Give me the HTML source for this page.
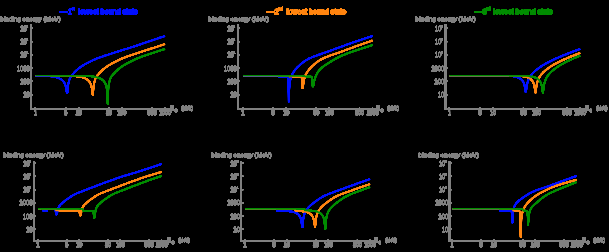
<!DOCTYPE html><html><head><meta charset="utf-8"><style>html,body{margin:0;padding:0;background:#000;width:609px;height:252px;overflow:hidden}svg{display:block}text{font-family:"Liberation Sans", sans-serif;stroke-width:0.45px;paint-order:stroke}</style></head><body>
<svg width="609" height="252" viewBox="0 0 609 252">
<defs><filter id="hT" filterUnits="userSpaceOnUse" x="0" y="0" width="609" height="252" color-interpolation-filters="sRGB"><feComponentTransfer><feFuncA type="linear" slope="20" intercept="0"/></feComponentTransfer></filter>
<filter id="hC" filterUnits="userSpaceOnUse" x="0" y="0" width="609" height="252" color-interpolation-filters="sRGB"><feComponentTransfer><feFuncA type="linear" slope="5" intercept="0"/></feComponentTransfer></filter></defs>
<g filter="url(#hT)" stroke="#808080"><path d="M31 24V108.9H170" fill="none" stroke="#808080" stroke-width="1.5"/><path d="M35.4 108.9v-1.5" stroke="#808080" stroke-width="1"/><text transform="translate(35.4 114.9) scale(0.82 1)" font-size="6.4" text-anchor="middle" fill="#808080" stroke="#808080" style="stroke-width:0.6px">1</text><path d="M65.6 108.9v-1.5" stroke="#808080" stroke-width="1"/><text transform="translate(65.6 114.9) scale(0.82 1)" font-size="6.4" text-anchor="middle" fill="#808080" stroke="#808080" style="stroke-width:0.6px">5</text><path d="M78.6 108.9v-1.5" stroke="#808080" stroke-width="1"/><text transform="translate(78.6 114.9) scale(0.82 1)" font-size="6.4" text-anchor="middle" fill="#808080" stroke="#808080" style="stroke-width:0.6px">10</text><path d="M108.8 108.9v-1.5" stroke="#808080" stroke-width="1"/><text transform="translate(108.8 114.9) scale(0.82 1)" font-size="6.4" text-anchor="middle" fill="#808080" stroke="#808080" style="stroke-width:0.6px">50</text><path d="M121.8 108.9v-1.5" stroke="#808080" stroke-width="1"/><text transform="translate(121.8 114.9) scale(0.82 1)" font-size="6.4" text-anchor="middle" fill="#808080" stroke="#808080" style="stroke-width:0.6px">100</text><path d="M152 108.9v-1.5" stroke="#808080" stroke-width="1"/><text transform="translate(152 114.9) scale(0.82 1)" font-size="6.4" text-anchor="middle" fill="#808080" stroke="#808080" style="stroke-width:0.6px">500</text><path d="M165 108.9v-1.5" stroke="#808080" stroke-width="1"/><text transform="translate(165 114.9) scale(0.82 1)" font-size="6.4" text-anchor="middle" fill="#808080" stroke="#808080" style="stroke-width:0.6px">1000</text><path d="M31 94.6h2" stroke="#808080" stroke-width="1"/><text transform="translate(29.7 97.2) scale(0.88 1)" font-size="6.6" text-anchor="end" fill="#808080" style="stroke-width:0.35px">10</text><path d="M31 81.34h2" stroke="#808080" stroke-width="1"/><text transform="translate(29.7 83.94) scale(0.88 1)" font-size="6.6" text-anchor="end" fill="#808080" style="stroke-width:0.35px">100</text><path d="M31 68.08h2" stroke="#808080" stroke-width="1"/><text transform="translate(29.7 70.68) scale(0.88 1)" font-size="6.6" text-anchor="end" fill="#808080" style="stroke-width:0.35px">1000</text><path d="M31 54.82h2" stroke="#808080" stroke-width="1"/><text transform="translate(26.6 57.42) scale(0.88 1)" font-size="6.6" text-anchor="end" fill="#808080" style="stroke-width:0.35px">10</text><text x="25.9" y="54.32" font-size="3.8" fill="#808080" style="stroke-width:0.2px">4</text><path d="M31 41.56h2" stroke="#808080" stroke-width="1"/><text transform="translate(26.6 44.16) scale(0.88 1)" font-size="6.6" text-anchor="end" fill="#808080" style="stroke-width:0.35px">10</text><text x="25.9" y="41.06" font-size="3.8" fill="#808080" style="stroke-width:0.2px">5</text><path d="M31 28.3h2" stroke="#808080" stroke-width="1"/><text transform="translate(26.6 30.9) scale(0.88 1)" font-size="6.6" text-anchor="end" fill="#808080" style="stroke-width:0.35px">10</text><text x="25.9" y="27.8" font-size="3.8" fill="#808080" style="stroke-width:0.2px">6</text><text x="0.4" y="20.9" font-size="5.7" fill="#808080" textLength="60.2" lengthAdjust="spacingAndGlyphs">binding energy (MeV)</text><text x="170.2" y="110.3" font-size="6.8" fill="#808080">μ</text><text x="174.6" y="112.1" font-size="5.2" fill="#808080">c</text><text x="181.6" y="109.9" font-size="5.4" fill="#808080" textLength="11.2" lengthAdjust="spacingAndGlyphs">(MeV)</text><path d="M238 24V108.9H376" fill="none" stroke="#808080" stroke-width="1.5"/><path d="M243 108.9v-1.5" stroke="#808080" stroke-width="1"/><text transform="translate(243 114.9) scale(0.82 1)" font-size="6.4" text-anchor="middle" fill="#808080" stroke="#808080" style="stroke-width:0.6px">1</text><path d="M273.17 108.9v-1.5" stroke="#808080" stroke-width="1"/><text transform="translate(273.17 114.9) scale(0.82 1)" font-size="6.4" text-anchor="middle" fill="#808080" stroke="#808080" style="stroke-width:0.6px">5</text><path d="M286.17 108.9v-1.5" stroke="#808080" stroke-width="1"/><text transform="translate(286.17 114.9) scale(0.82 1)" font-size="6.4" text-anchor="middle" fill="#808080" stroke="#808080" style="stroke-width:0.6px">10</text><path d="M316.34 108.9v-1.5" stroke="#808080" stroke-width="1"/><text transform="translate(316.34 114.9) scale(0.82 1)" font-size="6.4" text-anchor="middle" fill="#808080" stroke="#808080" style="stroke-width:0.6px">50</text><path d="M329.33 108.9v-1.5" stroke="#808080" stroke-width="1"/><text transform="translate(329.33 114.9) scale(0.82 1)" font-size="6.4" text-anchor="middle" fill="#808080" stroke="#808080" style="stroke-width:0.6px">100</text><path d="M359.51 108.9v-1.5" stroke="#808080" stroke-width="1"/><text transform="translate(359.51 114.9) scale(0.82 1)" font-size="6.4" text-anchor="middle" fill="#808080" stroke="#808080" style="stroke-width:0.6px">500</text><path d="M372.5 108.9v-1.5" stroke="#808080" stroke-width="1"/><text transform="translate(372.5 114.9) scale(0.82 1)" font-size="6.4" text-anchor="middle" fill="#808080" stroke="#808080" style="stroke-width:0.6px">1000</text><path d="M238 94.6h2" stroke="#808080" stroke-width="1"/><text transform="translate(236.7 97.2) scale(0.88 1)" font-size="6.6" text-anchor="end" fill="#808080" style="stroke-width:0.35px">10</text><path d="M238 81.34h2" stroke="#808080" stroke-width="1"/><text transform="translate(236.7 83.94) scale(0.88 1)" font-size="6.6" text-anchor="end" fill="#808080" style="stroke-width:0.35px">100</text><path d="M238 68.08h2" stroke="#808080" stroke-width="1"/><text transform="translate(236.7 70.68) scale(0.88 1)" font-size="6.6" text-anchor="end" fill="#808080" style="stroke-width:0.35px">1000</text><path d="M238 54.82h2" stroke="#808080" stroke-width="1"/><text transform="translate(233.6 57.42) scale(0.88 1)" font-size="6.6" text-anchor="end" fill="#808080" style="stroke-width:0.35px">10</text><text x="232.9" y="54.32" font-size="3.8" fill="#808080" style="stroke-width:0.2px">4</text><path d="M238 41.56h2" stroke="#808080" stroke-width="1"/><text transform="translate(233.6 44.16) scale(0.88 1)" font-size="6.6" text-anchor="end" fill="#808080" style="stroke-width:0.35px">10</text><text x="232.9" y="41.06" font-size="3.8" fill="#808080" style="stroke-width:0.2px">5</text><path d="M238 28.3h2" stroke="#808080" stroke-width="1"/><text transform="translate(233.6 30.9) scale(0.88 1)" font-size="6.6" text-anchor="end" fill="#808080" style="stroke-width:0.35px">10</text><text x="232.9" y="27.8" font-size="3.8" fill="#808080" style="stroke-width:0.2px">6</text><text x="208.6" y="20.9" font-size="5.7" fill="#808080" textLength="60.2" lengthAdjust="spacingAndGlyphs">binding energy (MeV)</text><text x="376.2" y="110.3" font-size="6.8" fill="#808080">μ</text><text x="380.6" y="112.1" font-size="5.2" fill="#808080">c</text><text x="387.6" y="109.9" font-size="5.4" fill="#808080" textLength="11.2" lengthAdjust="spacingAndGlyphs">(MeV)</text><path d="M445.6 24V108.9H584.7" fill="none" stroke="#808080" stroke-width="1.5"/><path d="M449.4 108.9v-1.5" stroke="#808080" stroke-width="1"/><text transform="translate(449.4 114.9) scale(0.82 1)" font-size="6.4" text-anchor="middle" fill="#808080" stroke="#808080" style="stroke-width:0.6px">1</text><path d="M479.88 108.9v-1.5" stroke="#808080" stroke-width="1"/><text transform="translate(479.88 114.9) scale(0.82 1)" font-size="6.4" text-anchor="middle" fill="#808080" stroke="#808080" style="stroke-width:0.6px">5</text><path d="M493 108.9v-1.5" stroke="#808080" stroke-width="1"/><text transform="translate(493 114.9) scale(0.82 1)" font-size="6.4" text-anchor="middle" fill="#808080" stroke="#808080" style="stroke-width:0.6px">10</text><path d="M523.48 108.9v-1.5" stroke="#808080" stroke-width="1"/><text transform="translate(523.48 114.9) scale(0.82 1)" font-size="6.4" text-anchor="middle" fill="#808080" stroke="#808080" style="stroke-width:0.6px">50</text><path d="M536.6 108.9v-1.5" stroke="#808080" stroke-width="1"/><text transform="translate(536.6 114.9) scale(0.82 1)" font-size="6.4" text-anchor="middle" fill="#808080" stroke="#808080" style="stroke-width:0.6px">100</text><path d="M567.08 108.9v-1.5" stroke="#808080" stroke-width="1"/><text transform="translate(567.08 114.9) scale(0.82 1)" font-size="6.4" text-anchor="middle" fill="#808080" stroke="#808080" style="stroke-width:0.6px">500</text><path d="M580.2 108.9v-1.5" stroke="#808080" stroke-width="1"/><text transform="translate(580.2 114.9) scale(0.82 1)" font-size="6.4" text-anchor="middle" fill="#808080" stroke="#808080" style="stroke-width:0.6px">1000</text><path d="M445.6 94.6h2" stroke="#808080" stroke-width="1"/><text transform="translate(444.3 97.2) scale(0.88 1)" font-size="6.6" text-anchor="end" fill="#808080" style="stroke-width:0.35px">10</text><path d="M445.6 81.34h2" stroke="#808080" stroke-width="1"/><text transform="translate(444.3 83.94) scale(0.88 1)" font-size="6.6" text-anchor="end" fill="#808080" style="stroke-width:0.35px">100</text><path d="M445.6 68.08h2" stroke="#808080" stroke-width="1"/><text transform="translate(444.3 70.68) scale(0.88 1)" font-size="6.6" text-anchor="end" fill="#808080" style="stroke-width:0.35px">1000</text><path d="M445.6 54.82h2" stroke="#808080" stroke-width="1"/><text transform="translate(441.2 57.42) scale(0.88 1)" font-size="6.6" text-anchor="end" fill="#808080" style="stroke-width:0.35px">10</text><text x="440.5" y="54.32" font-size="3.8" fill="#808080" style="stroke-width:0.2px">4</text><path d="M445.6 41.56h2" stroke="#808080" stroke-width="1"/><text transform="translate(441.2 44.16) scale(0.88 1)" font-size="6.6" text-anchor="end" fill="#808080" style="stroke-width:0.35px">10</text><text x="440.5" y="41.06" font-size="3.8" fill="#808080" style="stroke-width:0.2px">5</text><path d="M445.6 28.3h2" stroke="#808080" stroke-width="1"/><text transform="translate(441.2 30.9) scale(0.88 1)" font-size="6.6" text-anchor="end" fill="#808080" style="stroke-width:0.35px">10</text><text x="440.5" y="27.8" font-size="3.8" fill="#808080" style="stroke-width:0.2px">6</text><text x="415.5" y="20.9" font-size="5.7" fill="#808080" textLength="60.2" lengthAdjust="spacingAndGlyphs">binding energy (MeV)</text><text x="584.9" y="110.3" font-size="6.8" fill="#808080">μ</text><text x="589.3" y="112.1" font-size="5.2" fill="#808080">c</text><text x="596.3" y="109.9" font-size="5.4" fill="#808080" textLength="11.2" lengthAdjust="spacingAndGlyphs">(MeV)</text><path d="M33.8 161V240.9H166.8" fill="none" stroke="#808080" stroke-width="1.5"/><path d="M38 240.9v-1.5" stroke="#808080" stroke-width="1"/><text transform="translate(38 246.9) scale(0.82 1)" font-size="6.4" text-anchor="middle" fill="#808080" stroke="#808080" style="stroke-width:0.6px">1</text><path d="M66.77 240.9v-1.5" stroke="#808080" stroke-width="1"/><text transform="translate(66.77 246.9) scale(0.82 1)" font-size="6.4" text-anchor="middle" fill="#808080" stroke="#808080" style="stroke-width:0.6px">5</text><path d="M79.17 240.9v-1.5" stroke="#808080" stroke-width="1"/><text transform="translate(79.17 246.9) scale(0.82 1)" font-size="6.4" text-anchor="middle" fill="#808080" stroke="#808080" style="stroke-width:0.6px">10</text><path d="M107.94 240.9v-1.5" stroke="#808080" stroke-width="1"/><text transform="translate(107.94 246.9) scale(0.82 1)" font-size="6.4" text-anchor="middle" fill="#808080" stroke="#808080" style="stroke-width:0.6px">50</text><path d="M120.33 240.9v-1.5" stroke="#808080" stroke-width="1"/><text transform="translate(120.33 246.9) scale(0.82 1)" font-size="6.4" text-anchor="middle" fill="#808080" stroke="#808080" style="stroke-width:0.6px">100</text><path d="M149.11 240.9v-1.5" stroke="#808080" stroke-width="1"/><text transform="translate(149.11 246.9) scale(0.82 1)" font-size="6.4" text-anchor="middle" fill="#808080" stroke="#808080" style="stroke-width:0.6px">500</text><path d="M161.5 240.9v-1.5" stroke="#808080" stroke-width="1"/><text transform="translate(161.5 246.9) scale(0.82 1)" font-size="6.4" text-anchor="middle" fill="#808080" stroke="#808080" style="stroke-width:0.6px">1000</text><path d="M33.8 229.3h2" stroke="#808080" stroke-width="1"/><text transform="translate(32.5 231.9) scale(0.88 1)" font-size="6.6" text-anchor="end" fill="#808080" style="stroke-width:0.35px">10</text><path d="M33.8 216.06h2" stroke="#808080" stroke-width="1"/><text transform="translate(32.5 218.66) scale(0.88 1)" font-size="6.6" text-anchor="end" fill="#808080" style="stroke-width:0.35px">100</text><path d="M33.8 202.82h2" stroke="#808080" stroke-width="1"/><text transform="translate(32.5 205.42) scale(0.88 1)" font-size="6.6" text-anchor="end" fill="#808080" style="stroke-width:0.35px">1000</text><path d="M33.8 189.58h2" stroke="#808080" stroke-width="1"/><text transform="translate(29.4 192.18) scale(0.88 1)" font-size="6.6" text-anchor="end" fill="#808080" style="stroke-width:0.35px">10</text><text x="28.7" y="189.08" font-size="3.8" fill="#808080" style="stroke-width:0.2px">4</text><path d="M33.8 176.34h2" stroke="#808080" stroke-width="1"/><text transform="translate(29.4 178.94) scale(0.88 1)" font-size="6.6" text-anchor="end" fill="#808080" style="stroke-width:0.35px">10</text><text x="28.7" y="175.84" font-size="3.8" fill="#808080" style="stroke-width:0.2px">5</text><path d="M33.8 163.1h2" stroke="#808080" stroke-width="1"/><text transform="translate(29.4 165.7) scale(0.88 1)" font-size="6.6" text-anchor="end" fill="#808080" style="stroke-width:0.35px">10</text><text x="28.7" y="162.6" font-size="3.8" fill="#808080" style="stroke-width:0.2px">6</text><text x="3.5" y="156.8" font-size="5.7" fill="#808080" textLength="60.2" lengthAdjust="spacingAndGlyphs">binding energy (MeV)</text><text x="167" y="242.3" font-size="6.8" fill="#808080">μ</text><text x="171.4" y="244.1" font-size="5.2" fill="#808080">c</text><text x="178.4" y="241.9" font-size="5.4" fill="#808080" textLength="11.2" lengthAdjust="spacingAndGlyphs">(MeV)</text><path d="M241.25 161V240.9H373.75" fill="none" stroke="#808080" stroke-width="1.5"/><path d="M245 240.9v-1.5" stroke="#808080" stroke-width="1"/><text transform="translate(245 246.9) scale(0.82 1)" font-size="6.4" text-anchor="middle" fill="#808080" stroke="#808080" style="stroke-width:0.6px">1</text><path d="M274.12 240.9v-1.5" stroke="#808080" stroke-width="1"/><text transform="translate(274.12 246.9) scale(0.82 1)" font-size="6.4" text-anchor="middle" fill="#808080" stroke="#808080" style="stroke-width:0.6px">5</text><path d="M286.67 240.9v-1.5" stroke="#808080" stroke-width="1"/><text transform="translate(286.67 246.9) scale(0.82 1)" font-size="6.4" text-anchor="middle" fill="#808080" stroke="#808080" style="stroke-width:0.6px">10</text><path d="M315.79 240.9v-1.5" stroke="#808080" stroke-width="1"/><text transform="translate(315.79 246.9) scale(0.82 1)" font-size="6.4" text-anchor="middle" fill="#808080" stroke="#808080" style="stroke-width:0.6px">50</text><path d="M328.33 240.9v-1.5" stroke="#808080" stroke-width="1"/><text transform="translate(328.33 246.9) scale(0.82 1)" font-size="6.4" text-anchor="middle" fill="#808080" stroke="#808080" style="stroke-width:0.6px">100</text><path d="M357.46 240.9v-1.5" stroke="#808080" stroke-width="1"/><text transform="translate(357.46 246.9) scale(0.82 1)" font-size="6.4" text-anchor="middle" fill="#808080" stroke="#808080" style="stroke-width:0.6px">500</text><path d="M370 240.9v-1.5" stroke="#808080" stroke-width="1"/><text transform="translate(370 246.9) scale(0.82 1)" font-size="6.4" text-anchor="middle" fill="#808080" stroke="#808080" style="stroke-width:0.6px">1000</text><path d="M241.25 229.3h2" stroke="#808080" stroke-width="1"/><text transform="translate(239.95 231.9) scale(0.88 1)" font-size="6.6" text-anchor="end" fill="#808080" style="stroke-width:0.35px">10</text><path d="M241.25 216.06h2" stroke="#808080" stroke-width="1"/><text transform="translate(239.95 218.66) scale(0.88 1)" font-size="6.6" text-anchor="end" fill="#808080" style="stroke-width:0.35px">100</text><path d="M241.25 202.82h2" stroke="#808080" stroke-width="1"/><text transform="translate(239.95 205.42) scale(0.88 1)" font-size="6.6" text-anchor="end" fill="#808080" style="stroke-width:0.35px">1000</text><path d="M241.25 189.58h2" stroke="#808080" stroke-width="1"/><text transform="translate(236.85 192.18) scale(0.88 1)" font-size="6.6" text-anchor="end" fill="#808080" style="stroke-width:0.35px">10</text><text x="236.15" y="189.08" font-size="3.8" fill="#808080" style="stroke-width:0.2px">4</text><path d="M241.25 176.34h2" stroke="#808080" stroke-width="1"/><text transform="translate(236.85 178.94) scale(0.88 1)" font-size="6.6" text-anchor="end" fill="#808080" style="stroke-width:0.35px">10</text><text x="236.15" y="175.84" font-size="3.8" fill="#808080" style="stroke-width:0.2px">5</text><path d="M241.25 163.1h2" stroke="#808080" stroke-width="1"/><text transform="translate(236.85 165.7) scale(0.88 1)" font-size="6.6" text-anchor="end" fill="#808080" style="stroke-width:0.35px">10</text><text x="236.15" y="162.6" font-size="3.8" fill="#808080" style="stroke-width:0.2px">6</text><text x="211.5" y="156.8" font-size="5.7" fill="#808080" textLength="60.2" lengthAdjust="spacingAndGlyphs">binding energy (MeV)</text><text x="373.95" y="242.3" font-size="6.8" fill="#808080">μ</text><text x="378.35" y="244.1" font-size="5.2" fill="#808080">c</text><text x="385.35" y="241.9" font-size="5.4" fill="#808080" textLength="11.2" lengthAdjust="spacingAndGlyphs">(MeV)</text><path d="M449.5 161V240.9H582" fill="none" stroke="#808080" stroke-width="1.5"/><path d="M452.3 240.9v-1.5" stroke="#808080" stroke-width="1"/><text transform="translate(452.3 246.9) scale(0.82 1)" font-size="6.4" text-anchor="middle" fill="#808080" stroke="#808080" style="stroke-width:0.6px">1</text><path d="M481.24 240.9v-1.5" stroke="#808080" stroke-width="1"/><text transform="translate(481.24 246.9) scale(0.82 1)" font-size="6.4" text-anchor="middle" fill="#808080" stroke="#808080" style="stroke-width:0.6px">5</text><path d="M493.7 240.9v-1.5" stroke="#808080" stroke-width="1"/><text transform="translate(493.7 246.9) scale(0.82 1)" font-size="6.4" text-anchor="middle" fill="#808080" stroke="#808080" style="stroke-width:0.6px">10</text><path d="M522.64 240.9v-1.5" stroke="#808080" stroke-width="1"/><text transform="translate(522.64 246.9) scale(0.82 1)" font-size="6.4" text-anchor="middle" fill="#808080" stroke="#808080" style="stroke-width:0.6px">50</text><path d="M535.1 240.9v-1.5" stroke="#808080" stroke-width="1"/><text transform="translate(535.1 246.9) scale(0.82 1)" font-size="6.4" text-anchor="middle" fill="#808080" stroke="#808080" style="stroke-width:0.6px">100</text><path d="M564.04 240.9v-1.5" stroke="#808080" stroke-width="1"/><text transform="translate(564.04 246.9) scale(0.82 1)" font-size="6.4" text-anchor="middle" fill="#808080" stroke="#808080" style="stroke-width:0.6px">500</text><path d="M576.5 240.9v-1.5" stroke="#808080" stroke-width="1"/><text transform="translate(576.5 246.9) scale(0.82 1)" font-size="6.4" text-anchor="middle" fill="#808080" stroke="#808080" style="stroke-width:0.6px">1000</text><path d="M449.5 229.3h2" stroke="#808080" stroke-width="1"/><text transform="translate(448.2 231.9) scale(0.88 1)" font-size="6.6" text-anchor="end" fill="#808080" style="stroke-width:0.35px">10</text><path d="M449.5 216.06h2" stroke="#808080" stroke-width="1"/><text transform="translate(448.2 218.66) scale(0.88 1)" font-size="6.6" text-anchor="end" fill="#808080" style="stroke-width:0.35px">100</text><path d="M449.5 202.82h2" stroke="#808080" stroke-width="1"/><text transform="translate(448.2 205.42) scale(0.88 1)" font-size="6.6" text-anchor="end" fill="#808080" style="stroke-width:0.35px">1000</text><path d="M449.5 189.58h2" stroke="#808080" stroke-width="1"/><text transform="translate(445.1 192.18) scale(0.88 1)" font-size="6.6" text-anchor="end" fill="#808080" style="stroke-width:0.35px">10</text><text x="444.4" y="189.08" font-size="3.8" fill="#808080" style="stroke-width:0.2px">4</text><path d="M449.5 176.34h2" stroke="#808080" stroke-width="1"/><text transform="translate(445.1 178.94) scale(0.88 1)" font-size="6.6" text-anchor="end" fill="#808080" style="stroke-width:0.35px">10</text><text x="444.4" y="175.84" font-size="3.8" fill="#808080" style="stroke-width:0.2px">5</text><path d="M449.5 163.1h2" stroke="#808080" stroke-width="1"/><text transform="translate(445.1 165.7) scale(0.88 1)" font-size="6.6" text-anchor="end" fill="#808080" style="stroke-width:0.35px">10</text><text x="444.4" y="162.6" font-size="3.8" fill="#808080" style="stroke-width:0.2px">6</text><text x="418.7" y="156.8" font-size="5.7" fill="#808080" textLength="60.2" lengthAdjust="spacingAndGlyphs">binding energy (MeV)</text><text x="582.2" y="242.3" font-size="6.8" fill="#808080">μ</text><text x="586.6" y="244.1" font-size="5.2" fill="#808080">c</text><text x="593.6" y="241.9" font-size="5.4" fill="#808080" textLength="11.2" lengthAdjust="spacingAndGlyphs">(MeV)</text><text x="67.8" y="14.4" font-size="7.6" fill="#0010ff" stroke="#0010ff" style="stroke-width:0.7px">1</text><text x="71.6" y="10.2" font-size="4" fill="#0010ff" stroke="#0010ff" style="stroke-width:0.42px">st</text><text x="78.5" y="14.4" font-size="7.2" fill="#0010ff" stroke="#0010ff" style="stroke-width:0.7px" textLength="59.5" lengthAdjust="spacingAndGlyphs">lowest bound state</text><text x="274.8" y="14.4" font-size="7.6" fill="#ff8410" stroke="#ff8410" style="stroke-width:0.7px">2</text><text x="278.6" y="10.2" font-size="4" fill="#ff8410" stroke="#ff8410" style="stroke-width:0.42px">nd</text><text x="286.8" y="14.4" font-size="7.2" fill="#ff8410" stroke="#ff8410" style="stroke-width:0.7px" textLength="59.5" lengthAdjust="spacingAndGlyphs">lowest bound state</text><text x="482.8" y="14.4" font-size="7.6" fill="#008c00" stroke="#008c00" style="stroke-width:0.7px">3</text><text x="486.6" y="10.2" font-size="4" fill="#008c00" stroke="#008c00" style="stroke-width:0.42px">rd</text><text x="493.5" y="14.4" font-size="7.2" fill="#008c00" stroke="#008c00" style="stroke-width:0.7px" textLength="59.5" lengthAdjust="spacingAndGlyphs">lowest bound state</text></g>
<g filter="url(#hC)"><path d="M35.4 75.9 L35.9 75.9 L36.4 75.9 L36.9 75.9 L37.4 75.9 L37.9 75.9 L38.4 75.9 L38.9 75.9 L39.4 75.9 L39.9 75.9 L40.4 75.9 L40.9 75.9 L41.4 75.9 L41.9 75.9 L42.4 75.9 L42.9 75.9 L43.4 75.9 L43.9 75.9 L44.4 75.9 L44.9 75.9 L45.4 75.9 L45.9 75.9 L46.4 75.93 L46.9 75.97 L47.4 76 L47.9 76.04 L48.4 76.08 L48.9 76.13 L49.4 76.17 L49.9 76.22 L50.4 76.28 L50.9 76.33 L51.4 76.39 L51.9 76.46 L52.4 76.53 L52.9 76.61 L53.4 76.69 L53.9 76.78 L54.4 76.87 L54.9 76.97 L55.4 77.08 L55.9 77.2 L56.4 77.33 L56.9 77.47 L57.4 77.63 L57.9 77.79 L58.4 77.97 L58.9 78.17 L59.4 78.39 L59.9 78.64 L60.4 78.9 L60.9 79.2 L61.4 79.54 L61.9 79.92 L62.4 80.35 L62.9 80.84 L63.4 81.41 L63.9 82.09 L64.4 82.91 L64.9 83.93 L65.4 85.25 L65.9 87.09 L66.4 90.03 L66.9 92.9 L67.1 92.9 L67.4 92.35 L67.9 86.47 L68.4 83.46 L68.9 81.34 L69.4 79.64 L69.9 78.28 L70.4 77.23 L70.9 76.42 L71.4 75.72 L71.9 75.11 L72.4 74.56 L72.9 74.02 L73.4 73.49 L73.9 72.96 L74.4 72.43 L74.9 71.91 L75.4 71.4 L75.9 70.91 L76.4 70.43 L76.9 69.97 L77.4 69.52 L77.9 69.09 L78.4 68.69 L78.9 68.29 L79.4 67.91 L79.9 67.53 L80.4 67.16 L80.9 66.8 L81.4 66.46 L81.9 66.12 L82.4 65.8 L82.9 65.49 L83.4 65.2 L83.9 64.91 L84.4 64.63 L84.9 64.36 L85.4 64.09 L85.9 63.83 L86.4 63.57 L86.9 63.32 L87.4 63.06 L87.9 62.8 L88.4 62.54 L88.9 62.28 L89.4 62.03 L89.9 61.77 L90.4 61.51 L90.9 61.26 L91.4 61.01 L91.9 60.76 L92.4 60.52 L92.9 60.27 L93.4 60.04 L93.9 59.8 L94.4 59.58 L94.9 59.36 L95.4 59.14 L95.9 58.93 L96.4 58.73 L96.9 58.53 L97.4 58.33 L97.9 58.14 L98.4 57.95 L98.9 57.76 L99.4 57.57 L99.9 57.39 L100.4 57.21 L100.9 57.03 L101.4 56.86 L101.9 56.68 L102.4 56.51 L102.9 56.34 L103.4 56.17 L103.9 56 L104.4 55.84 L104.9 55.67 L105.4 55.51 L105.9 55.35 L106.4 55.19 L106.9 55.03 L107.4 54.87 L107.9 54.71 L108.4 54.55 L108.9 54.39 L109.4 54.23 L109.9 54.07 L110.4 53.91 L110.9 53.76 L111.4 53.6 L111.9 53.44 L112.4 53.28 L112.9 53.12 L113.4 52.96 L113.9 52.8 L114.4 52.64 L114.9 52.48 L115.4 52.31 L115.9 52.15 L116.4 51.99 L116.9 51.83 L117.4 51.67 L117.9 51.51 L118.4 51.35 L118.9 51.19 L119.4 51.03 L119.9 50.88 L120.4 50.72 L120.9 50.56 L121.4 50.41 L121.9 50.25 L122.4 50.09 L122.9 49.94 L123.4 49.78 L123.9 49.63 L124.4 49.47 L124.9 49.31 L125.4 49.16 L125.9 49 L126.4 48.85 L126.9 48.69 L127.4 48.54 L127.9 48.38 L128.4 48.22 L128.9 48.07 L129.4 47.91 L129.9 47.76 L130.4 47.6 L130.9 47.44 L131.4 47.28 L131.9 47.12 L132.4 46.96 L132.9 46.81 L133.4 46.65 L133.9 46.48 L134.4 46.32 L134.9 46.16 L135.4 46 L135.9 45.84 L136.4 45.67 L136.9 45.51 L137.4 45.34 L137.9 45.18 L138.4 45.01 L138.9 44.84 L139.4 44.68 L139.9 44.51 L140.4 44.34 L140.9 44.17 L141.4 44 L141.9 43.83 L142.4 43.66 L142.9 43.49 L143.4 43.32 L143.9 43.15 L144.4 42.98 L144.9 42.81 L145.4 42.64 L145.9 42.47 L146.4 42.29 L146.9 42.12 L147.4 41.95 L147.9 41.78 L148.4 41.61 L148.9 41.43 L149.4 41.26 L149.9 41.09 L150.4 40.92 L150.9 40.74 L151.4 40.57 L151.9 40.4 L152.4 40.23 L152.9 40.05 L153.4 39.88 L153.9 39.71 L154.4 39.54 L154.9 39.37 L155.4 39.2 L155.9 39.03 L156.4 38.86 L156.9 38.69 L157.4 38.52 L157.9 38.35 L158.4 38.18 L158.9 38.01 L159.4 37.84 L159.9 37.68 L160.4 37.51 L160.9 37.34 L161.4 37.18 L161.9 37.01 L162.4 36.85 L162.9 36.68 L163.4 36.52 L163.9 36.36 L164.4 36.19 L164.9 36.03 L165 36" fill="none" stroke="#0010ff" stroke-width="1.7" stroke-linejoin="round"/><path d="M35.4 75.9 L35.9 75.9 L36.4 75.9 L36.9 75.9 L37.4 75.9 L37.9 75.9 L38.4 75.9 L38.9 75.9 L39.4 75.9 L39.9 75.9 L40.4 75.9 L40.9 75.9 L41.4 75.9 L41.9 75.9 L42.4 75.9 L42.9 75.9 L43.4 75.9 L43.9 75.9 L44.4 75.9 L44.9 75.9 L45.4 75.9 L45.9 75.9 L46.4 75.9 L46.9 75.9 L47.4 75.9 L47.9 75.9 L48.4 75.9 L48.9 75.9 L49.4 75.9 L49.9 75.9 L50.4 75.9 L50.9 75.9 L51.4 75.9 L51.9 75.9 L52.4 75.9 L52.9 75.9 L53.4 75.9 L53.9 75.9 L54.4 75.9 L54.9 75.9 L55.4 75.9 L55.9 75.9 L56.4 75.9 L56.9 75.9 L57.4 75.9 L57.9 75.9 L58.4 75.9 L58.9 75.9 L59.4 75.9 L59.9 75.9 L60.4 75.9 L60.9 75.9 L61.4 75.9 L61.9 75.9 L62.4 75.9 L62.9 75.9 L63.4 75.9 L63.9 75.9 L64.4 75.9 L64.9 75.9 L65.4 75.9 L65.9 75.9 L66.4 75.9 L66.9 75.9 L67.4 75.9 L67.9 75.9 L68.4 75.9 L68.9 75.9 L69.4 75.9 L69.9 75.9 L70.4 75.9 L70.9 75.9 L71.4 75.9 L71.9 75.92 L72.4 75.95 L72.9 75.99 L73.4 76.02 L73.9 76.06 L74.4 76.11 L74.9 76.15 L75.4 76.2 L75.9 76.25 L76.4 76.31 L76.9 76.37 L77.4 76.43 L77.9 76.5 L78.4 76.58 L78.9 76.66 L79.4 76.74 L79.9 76.83 L80.4 76.93 L80.9 77.04 L81.4 77.15 L81.9 77.28 L82.4 77.42 L82.9 77.56 L83.4 77.72 L83.9 77.9 L84.4 78.09 L84.9 78.3 L85.4 78.54 L85.9 78.79 L86.4 79.08 L86.9 79.4 L87.4 79.76 L87.9 80.17 L88.4 80.63 L88.9 81.17 L89.4 81.81 L89.9 82.56 L90.4 83.49 L90.9 84.68 L91.4 86.27 L91.9 88.65 L92.4 93.15 L92.8 95.2 L92.9 95.2 L93.4 88.22 L93.9 84.51 L94.4 82.13 L94.9 80.28 L95.4 78.78 L95.9 77.61 L96.4 76.72 L96.9 75.99 L97.4 75.35 L97.9 74.78 L98.4 74.24 L98.9 73.71 L99.4 73.17 L99.9 72.64 L100.4 72.11 L100.9 71.6 L101.4 71.1 L101.9 70.62 L102.4 70.15 L102.9 69.7 L103.4 69.26 L103.9 68.85 L104.4 68.45 L104.9 68.06 L105.4 67.68 L105.9 67.31 L106.4 66.94 L106.9 66.58 L107.4 66.23 L107.9 65.9 L108.4 65.58 L108.9 65.27 L109.4 64.97 L109.9 64.68 L110.4 64.4 L110.9 64.13 L111.4 63.86 L111.9 63.6 L112.4 63.33 L112.9 63.07 L113.4 62.8 L113.9 62.54 L114.4 62.27 L114.9 62.01 L115.4 61.75 L115.9 61.48 L116.4 61.22 L116.9 60.97 L117.4 60.71 L117.9 60.46 L118.4 60.21 L118.9 59.96 L119.4 59.72 L119.9 59.49 L120.4 59.26 L120.9 59.04 L121.4 58.82 L121.9 58.61 L122.4 58.4 L122.9 58.2 L123.4 57.99 L123.9 57.8 L124.4 57.6 L124.9 57.41 L125.4 57.22 L125.9 57.03 L126.4 56.85 L126.9 56.66 L127.4 56.48 L127.9 56.31 L128.4 56.13 L128.9 55.95 L129.4 55.78 L129.9 55.61 L130.4 55.44 L130.9 55.27 L131.4 55.1 L131.9 54.93 L132.4 54.76 L132.9 54.6 L133.4 54.43 L133.9 54.27 L134.4 54.1 L134.9 53.94 L135.4 53.77 L135.9 53.61 L136.4 53.45 L136.9 53.28 L137.4 53.12 L137.9 52.95 L138.4 52.79 L138.9 52.62 L139.4 52.46 L139.9 52.29 L140.4 52.12 L140.9 51.95 L141.4 51.78 L141.9 51.62 L142.4 51.45 L142.9 51.28 L143.4 51.12 L143.9 50.95 L144.4 50.79 L144.9 50.62 L145.4 50.46 L145.9 50.3 L146.4 50.13 L146.9 49.97 L147.4 49.81 L147.9 49.65 L148.4 49.48 L148.9 49.32 L149.4 49.16 L149.9 49 L150.4 48.84 L150.9 48.68 L151.4 48.52 L151.9 48.35 L152.4 48.19 L152.9 48.03 L153.4 47.87 L153.9 47.71 L154.4 47.55 L154.9 47.38 L155.4 47.22 L155.9 47.06 L156.4 46.89 L156.9 46.73 L157.4 46.57 L157.9 46.4 L158.4 46.24 L158.9 46.07 L159.4 45.91 L159.9 45.74 L160.4 45.57 L160.9 45.4 L161.4 45.23 L161.9 45.06 L162.4 44.89 L162.9 44.72 L163.4 44.55 L163.9 44.38 L164.4 44.21 L164.9 44.03 L165 44" fill="none" stroke="#ff8410" stroke-width="1.7" stroke-linejoin="round"/><path d="M35.4 75.9 L35.9 75.9 L36.4 75.9 L36.9 75.9 L37.4 75.9 L37.9 75.9 L38.4 75.9 L38.9 75.9 L39.4 75.9 L39.9 75.9 L40.4 75.9 L40.9 75.9 L41.4 75.9 L41.9 75.9 L42.4 75.9 L42.9 75.9 L43.4 75.9 L43.9 75.9 L44.4 75.9 L44.9 75.9 L45.4 75.9 L45.9 75.9 L46.4 75.9 L46.9 75.9 L47.4 75.9 L47.9 75.9 L48.4 75.9 L48.9 75.9 L49.4 75.9 L49.9 75.9 L50.4 75.9 L50.9 75.9 L51.4 75.9 L51.9 75.9 L52.4 75.9 L52.9 75.9 L53.4 75.9 L53.9 75.9 L54.4 75.9 L54.9 75.9 L55.4 75.9 L55.9 75.9 L56.4 75.9 L56.9 75.9 L57.4 75.9 L57.9 75.9 L58.4 75.9 L58.9 75.9 L59.4 75.9 L59.9 75.9 L60.4 75.9 L60.9 75.9 L61.4 75.9 L61.9 75.9 L62.4 75.9 L62.9 75.9 L63.4 75.9 L63.9 75.9 L64.4 75.9 L64.9 75.9 L65.4 75.9 L65.9 75.9 L66.4 75.9 L66.9 75.9 L67.4 75.9 L67.9 75.9 L68.4 75.9 L68.9 75.9 L69.4 75.9 L69.9 75.9 L70.4 75.9 L70.9 75.9 L71.4 75.9 L71.9 75.9 L72.4 75.9 L72.9 75.9 L73.4 75.9 L73.9 75.9 L74.4 75.9 L74.9 75.9 L75.4 75.9 L75.9 75.9 L76.4 75.9 L76.9 75.9 L77.4 75.9 L77.9 75.9 L78.4 75.9 L78.9 75.9 L79.4 75.9 L79.9 75.9 L80.4 75.9 L80.9 75.9 L81.4 75.9 L81.9 75.9 L82.4 75.9 L82.9 75.9 L83.4 75.9 L83.9 75.9 L84.4 75.9 L84.9 75.9 L85.4 75.9 L85.9 75.9 L86.4 75.9 L86.9 75.93 L87.4 75.96 L87.9 75.99 L88.4 76.03 L88.9 76.07 L89.4 76.12 L89.9 76.16 L90.4 76.21 L90.9 76.26 L91.4 76.32 L91.9 76.38 L92.4 76.45 L92.9 76.52 L93.4 76.59 L93.9 76.67 L94.4 76.76 L94.9 76.85 L95.4 76.95 L95.9 77.06 L96.4 77.18 L96.9 77.31 L97.4 77.44 L97.9 77.59 L98.4 77.76 L98.9 77.94 L99.4 78.13 L99.9 78.35 L100.4 78.59 L100.9 78.85 L101.4 79.14 L101.9 79.47 L102.4 79.84 L102.9 80.25 L103.4 80.73 L103.9 81.29 L104.4 81.95 L104.9 82.73 L105.4 83.71 L105.9 84.96 L106.4 86.67 L106.9 89.3 L107.4 94.78 L107.7 104 L107.9 94.73 L108.4 87.29 L108.9 83.96 L109.4 81.72 L109.9 79.95 L110.4 78.52 L110.9 77.42 L111.4 76.57 L111.9 75.85 L112.4 75.23 L112.9 74.67 L113.4 74.13 L113.9 73.6 L114.4 73.06 L114.9 72.53 L115.4 72.01 L115.9 71.5 L116.4 71.01 L116.9 70.52 L117.4 70.06 L117.9 69.61 L118.4 69.18 L118.9 68.77 L119.4 68.37 L119.9 67.98 L120.4 67.6 L120.9 67.23 L121.4 66.87 L121.9 66.51 L122.4 66.17 L122.9 65.84 L123.4 65.52 L123.9 65.22 L124.4 64.92 L124.9 64.64 L125.4 64.36 L125.9 64.09 L126.4 63.82 L126.9 63.55 L127.4 63.29 L127.9 63.03 L128.4 62.76 L128.9 62.5 L129.4 62.24 L129.9 61.97 L130.4 61.71 L130.9 61.45 L131.4 61.19 L131.9 60.93 L132.4 60.68 L132.9 60.43 L133.4 60.18 L133.9 59.94 L134.4 59.7 L134.9 59.46 L135.4 59.24 L135.9 59.01 L136.4 58.8 L136.9 58.59 L137.4 58.38 L137.9 58.18 L138.4 57.98 L138.9 57.79 L139.4 57.59 L139.9 57.4 L140.4 57.21 L140.9 57.03 L141.4 56.84 L141.9 56.66 L142.4 56.48 L142.9 56.3 L143.4 56.13 L143.9 55.95 L144.4 55.78 L144.9 55.61 L145.4 55.44 L145.9 55.27 L146.4 55.1 L146.9 54.93 L147.4 54.77 L147.9 54.6 L148.4 54.44 L148.9 54.28 L149.4 54.11 L149.9 53.95 L150.4 53.78 L150.9 53.62 L151.4 53.46 L151.9 53.29 L152.4 53.13 L152.9 52.97 L153.4 52.8 L153.9 52.64 L154.4 52.47 L154.9 52.31 L155.4 52.14 L155.9 51.97 L156.4 51.8 L156.9 51.64 L157.4 51.47 L157.9 51.3 L158.4 51.14 L158.9 50.98 L159.4 50.81 L159.9 50.65 L160.4 50.49 L160.9 50.32 L161.4 50.16 L161.9 50 L162.4 49.84 L162.9 49.68 L163.4 49.51 L163.9 49.35 L164.4 49.19 L164.9 49.03 L165 49" fill="none" stroke="#008c00" stroke-width="1.7" stroke-linejoin="round"/><path d="M243 75.9 L243.5 75.9 L244 75.9 L244.5 75.9 L245 75.9 L245.5 75.9 L246 75.9 L246.5 75.9 L247 75.9 L247.5 75.9 L248 75.9 L248.5 75.9 L249 75.9 L249.5 75.9 L250 75.9 L250.5 75.9 L251 75.9 L251.5 75.9 L252 75.9 L252.5 75.9 L253 75.9 L253.5 75.9 L254 75.9 L254.5 75.9 L255 75.9 L255.5 75.9 L256 75.9 L256.5 75.9 L257 75.9 L257.5 75.9 L258 75.9 L258.5 75.9 L259 75.9 L259.5 75.9 L260 75.9 L260.5 75.9 L261 75.9 L261.5 75.9 L262 75.9 L262.5 75.9 L263 75.9 L263.5 75.9 L264 75.9 L264.5 75.9 L265 75.9 L265.5 75.9 L266 75.9 L266.5 75.9 L267 75.9 L267.5 75.9 L268 75.9 L268.5 75.9 L269 75.9 L269.5 75.9 L270 75.9 L270.5 75.9 L271 75.9 L271.5 75.9 L272 75.9 L272.5 75.9 L273 75.9 L273.5 75.9 L274 75.9 L274.5 75.9 L275 75.9 L275.5 75.9 L276 75.9 L276.5 75.9 L277 75.9 L277.5 75.9 L278 75.9 L278.5 75.9 L279 76.7 L279.5 76.7 L280 76.7 L280.5 76.7 L281 76.7 L281.5 76.7 L282 76.7 L282.5 76.7 L283 76.7 L283.5 76.7 L284 76.7 L284.5 76.7 L285 76.7 L285.5 76.71 L286 76.71 L286.5 76.74 L287 76.83 L287.5 77.07 L288 77.85 L288.5 81.01 L288.8 101.7 L289 92.33 L289.5 84.75 L290 81.31 L290.5 79.01 L291 77.28 L291.5 75.92 L292 74.79 L292.5 73.8 L293 72.91 L293.5 72.1 L294 71.35 L294.5 70.66 L295 70.01 L295.5 69.4 L296 68.82 L296.5 68.26 L297 67.73 L297.5 67.22 L298 66.73 L298.5 66.25 L299 65.78 L299.5 65.32 L300 64.87 L300.5 64.42 L301 63.99 L301.5 63.57 L302 63.16 L302.5 62.76 L303 62.37 L303.5 61.99 L304 61.62 L304.5 61.26 L305 60.92 L305.5 60.59 L306 60.27 L306.5 59.96 L307 59.67 L307.5 59.39 L308 59.13 L308.5 58.87 L309 58.63 L309.5 58.38 L310 58.15 L310.5 57.92 L311 57.7 L311.5 57.48 L312 57.26 L312.5 57.06 L313 56.85 L313.5 56.65 L314 56.46 L314.5 56.27 L315 56.08 L315.5 55.89 L316 55.71 L316.5 55.53 L317 55.36 L317.5 55.18 L318 55.01 L318.5 54.84 L319 54.67 L319.5 54.5 L320 54.33 L320.5 54.16 L321 53.99 L321.5 53.83 L322 53.66 L322.5 53.49 L323 53.32 L323.5 53.15 L324 52.98 L324.5 52.81 L325 52.63 L325.5 52.45 L326 52.27 L326.5 52.09 L327 51.91 L327.5 51.72 L328 51.54 L328.5 51.35 L329 51.17 L329.5 50.98 L330 50.8 L330.5 50.61 L331 50.43 L331.5 50.25 L332 50.06 L332.5 49.88 L333 49.69 L333.5 49.51 L334 49.32 L334.5 49.14 L335 48.96 L335.5 48.77 L336 48.59 L336.5 48.41 L337 48.22 L337.5 48.04 L338 47.86 L338.5 47.67 L339 47.49 L339.5 47.31 L340 47.13 L340.5 46.95 L341 46.76 L341.5 46.58 L342 46.4 L342.5 46.22 L343 46.04 L343.5 45.86 L344 45.68 L344.5 45.5 L345 45.32 L345.5 45.14 L346 44.96 L346.5 44.78 L347 44.6 L347.5 44.42 L348 44.24 L348.5 44.07 L349 43.89 L349.5 43.71 L350 43.53 L350.5 43.36 L351 43.18 L351.5 43 L352 42.83 L352.5 42.65 L353 42.48 L353.5 42.3 L354 42.13 L354.5 41.96 L355 41.78 L355.5 41.61 L356 41.44 L356.5 41.26 L357 41.09 L357.5 40.92 L358 40.75 L358.5 40.58 L359 40.41 L359.5 40.24 L360 40.07 L360.5 39.91 L361 39.74 L361.5 39.58 L362 39.41 L362.5 39.25 L363 39.09 L363.5 38.92 L364 38.76 L364.5 38.6 L365 38.44 L365.5 38.28 L366 38.12 L366.5 37.96 L367 37.8 L367.5 37.63 L368 37.47 L368.5 37.31 L369 37.15 L369.5 36.99 L370 36.82 L370.5 36.66 L371 36.5 L371.5 36.33 L372 36.17 L372.5 36" fill="none" stroke="#0010ff" stroke-width="1.7" stroke-linejoin="round"/><path d="M243 75.9 L243.5 75.9 L244 75.9 L244.5 75.9 L245 75.9 L245.5 75.9 L246 75.9 L246.5 75.9 L247 75.9 L247.5 75.9 L248 75.9 L248.5 75.9 L249 75.9 L249.5 75.9 L250 75.9 L250.5 75.9 L251 75.9 L251.5 75.9 L252 75.9 L252.5 75.9 L253 75.9 L253.5 75.9 L254 75.9 L254.5 75.9 L255 75.9 L255.5 75.9 L256 75.9 L256.5 75.9 L257 75.9 L257.5 75.9 L258 75.9 L258.5 75.9 L259 75.9 L259.5 75.9 L260 75.9 L260.5 75.9 L261 75.9 L261.5 75.9 L262 75.9 L262.5 75.9 L263 75.9 L263.5 75.9 L264 75.9 L264.5 75.9 L265 75.9 L265.5 75.9 L266 75.9 L266.5 75.9 L267 75.9 L267.5 75.9 L268 75.9 L268.5 75.9 L269 75.9 L269.5 75.9 L270 75.9 L270.5 75.9 L271 75.9 L271.5 75.9 L272 75.9 L272.5 75.9 L273 75.9 L273.5 75.9 L274 75.9 L274.5 75.9 L275 75.9 L275.5 75.9 L276 75.9 L276.5 75.9 L277 75.9 L277.5 75.9 L278 75.9 L278.5 75.9 L279 75.9 L279.5 75.9 L280 75.9 L280.5 75.9 L281 75.9 L281.5 75.9 L282 75.9 L282.5 75.9 L283 75.9 L283.5 75.9 L284 75.9 L284.5 75.9 L285 75.9 L285.5 75.9 L286 75.9 L286.5 75.9 L287 75.9 L287.5 75.9 L288 75.9 L288.5 75.9 L289 75.9 L289.5 75.9 L290 76.5 L290.5 76.5 L291 76.5 L291.5 76.5 L292 76.5 L292.5 76.5 L293 76.5 L293.5 76.5 L294 76.5 L294.5 76.5 L295 76.5 L295.5 76.5 L296 76.5 L296.5 76.5 L297 76.5 L297.5 76.5 L298 76.5 L298.5 76.5 L299 76.5 L299.5 76.51 L300 76.53 L300.5 76.58 L301 76.74 L301.5 77.23 L302 78.93 L302.5 88.2 L303 86.83 L303.5 82.49 L304 79.85 L304.5 77.92 L305 76.43 L305.5 75.22 L306 74.19 L306.5 73.26 L307 72.42 L307.5 71.64 L308 70.93 L308.5 70.26 L309 69.64 L309.5 69.05 L310 68.48 L310.5 67.94 L311 67.43 L311.5 66.93 L312 66.44 L312.5 65.97 L313 65.5 L313.5 65.05 L314 64.6 L314.5 64.16 L315 63.74 L315.5 63.32 L316 62.92 L316.5 62.52 L317 62.14 L317.5 61.77 L318 61.41 L318.5 61.06 L319 60.72 L319.5 60.4 L320 60.09 L320.5 59.79 L321 59.51 L321.5 59.24 L322 58.98 L322.5 58.73 L323 58.48 L323.5 58.24 L324 58.01 L324.5 57.79 L325 57.57 L325.5 57.35 L326 57.14 L326.5 56.94 L327 56.74 L327.5 56.54 L328 56.35 L328.5 56.16 L329 55.97 L329.5 55.79 L330 55.61 L330.5 55.43 L331 55.26 L331.5 55.08 L332 54.91 L332.5 54.74 L333 54.57 L333.5 54.4 L334 54.23 L334.5 54.07 L335 53.9 L335.5 53.73 L336 53.56 L336.5 53.4 L337 53.23 L337.5 53.06 L338 52.88 L338.5 52.71 L339 52.53 L339.5 52.36 L340 52.17 L340.5 51.99 L341 51.81 L341.5 51.62 L342 51.44 L342.5 51.25 L343 51.07 L343.5 50.88 L344 50.7 L344.5 50.52 L345 50.33 L345.5 50.15 L346 49.96 L346.5 49.78 L347 49.59 L347.5 49.41 L348 49.23 L348.5 49.04 L349 48.86 L349.5 48.68 L350 48.49 L350.5 48.31 L351 48.13 L351.5 47.94 L352 47.76 L352.5 47.58 L353 47.4 L353.5 47.22 L354 47.03 L354.5 46.85 L355 46.67 L355.5 46.49 L356 46.31 L356.5 46.13 L357 45.95 L357.5 45.77 L358 45.59 L358.5 45.41 L359 45.23 L359.5 45.05 L360 44.87 L360.5 44.69 L361 44.51 L361.5 44.33 L362 44.15 L362.5 43.98 L363 43.8 L363.5 43.62 L364 43.45 L364.5 43.27 L365 43.09 L365.5 42.92 L366 42.74 L366.5 42.57 L367 42.39 L367.5 42.22 L368 42.04 L368.5 41.87 L369 41.7 L369.5 41.53 L370 41.35 L370.5 41.18 L371 41.01 L371.5 40.84 L372 40.67 L372.5 40.5" fill="none" stroke="#ff8410" stroke-width="1.7" stroke-linejoin="round"/><path d="M243 75.9 L243.5 75.9 L244 75.9 L244.5 75.9 L245 75.9 L245.5 75.9 L246 75.9 L246.5 75.9 L247 75.9 L247.5 75.9 L248 75.9 L248.5 75.9 L249 75.9 L249.5 75.9 L250 75.9 L250.5 75.9 L251 75.9 L251.5 75.9 L252 75.9 L252.5 75.9 L253 75.9 L253.5 75.9 L254 75.9 L254.5 75.9 L255 75.9 L255.5 75.9 L256 75.9 L256.5 75.9 L257 75.9 L257.5 75.9 L258 75.9 L258.5 75.9 L259 75.9 L259.5 75.9 L260 75.9 L260.5 75.9 L261 75.9 L261.5 75.9 L262 75.9 L262.5 75.9 L263 75.9 L263.5 75.9 L264 75.9 L264.5 75.9 L265 75.9 L265.5 75.9 L266 75.9 L266.5 75.9 L267 75.9 L267.5 75.9 L268 75.9 L268.5 75.9 L269 75.9 L269.5 75.9 L270 75.9 L270.5 75.9 L271 75.9 L271.5 75.9 L272 75.9 L272.5 75.9 L273 75.9 L273.5 75.9 L274 75.9 L274.5 75.9 L275 75.9 L275.5 75.9 L276 75.9 L276.5 75.9 L277 75.9 L277.5 75.9 L278 75.9 L278.5 75.9 L279 75.9 L279.5 75.9 L280 75.9 L280.5 75.9 L281 75.9 L281.5 75.9 L282 75.9 L282.5 75.9 L283 75.9 L283.5 75.9 L284 75.9 L284.5 75.9 L285 75.9 L285.5 75.9 L286 75.9 L286.5 75.9 L287 75.9 L287.5 75.9 L288 75.9 L288.5 75.9 L289 75.9 L289.5 75.9 L290 75.9 L290.5 75.9 L291 75.9 L291.5 75.9 L292 75.9 L292.5 75.9 L293 75.9 L293.5 75.9 L294 75.9 L294.5 75.9 L295 75.9 L295.5 75.9 L296 75.9 L296.5 75.9 L297 75.9 L297.5 75.9 L298 75.9 L298.5 75.9 L299 75.9 L299.5 75.9 L300 75.9 L300.5 75.9 L301 75.9 L301.5 75.9 L302 75.9 L302.5 75.9 L303 75.9 L303.5 75.9 L304 75.9 L304.5 75.9 L305 76.5 L305.5 76.5 L306 76.5 L306.5 76.5 L307 76.5 L307.5 76.5 L308 76.5 L308.5 76.5 L309 76.5 L309.5 76.51 L310 76.52 L310.5 76.55 L311 76.66 L311.5 76.96 L312 77.96 L312.5 82.59 L312.7 86.5 L313 86.5 L313.5 85 L314 81.93 L314.5 79.8 L315 78.16 L315.5 76.8 L316 75.61 L316.5 74.55 L317 73.58 L317.5 72.7 L318 71.89 L318.5 71.16 L319 70.5 L319.5 69.91 L320 69.37 L320.5 68.87 L321 68.39 L321.5 67.95 L322 67.52 L322.5 67.12 L323 66.73 L323.5 66.36 L324 66 L324.5 65.65 L325 65.31 L325.5 64.98 L326 64.65 L326.5 64.33 L327 64.01 L327.5 63.69 L328 63.37 L328.5 63.05 L329 62.72 L329.5 62.4 L330 62.09 L330.5 61.77 L331 61.46 L331.5 61.14 L332 60.83 L332.5 60.53 L333 60.23 L333.5 59.93 L334 59.63 L334.5 59.34 L335 59.05 L335.5 58.77 L336 58.49 L336.5 58.22 L337 57.95 L337.5 57.69 L338 57.44 L338.5 57.19 L339 56.94 L339.5 56.71 L340 56.48 L340.5 56.25 L341 56.03 L341.5 55.81 L342 55.6 L342.5 55.39 L343 55.18 L343.5 54.97 L344 54.76 L344.5 54.56 L345 54.36 L345.5 54.16 L346 53.97 L346.5 53.77 L347 53.58 L347.5 53.39 L348 53.21 L348.5 53.02 L349 52.84 L349.5 52.65 L350 52.47 L350.5 52.3 L351 52.12 L351.5 51.94 L352 51.77 L352.5 51.6 L353 51.42 L353.5 51.25 L354 51.08 L354.5 50.92 L355 50.75 L355.5 50.58 L356 50.42 L356.5 50.25 L357 50.09 L357.5 49.92 L358 49.76 L358.5 49.6 L359 49.44 L359.5 49.28 L360 49.11 L360.5 48.95 L361 48.79 L361.5 48.63 L362 48.47 L362.5 48.31 L363 48.15 L363.5 47.99 L364 47.83 L364.5 47.67 L365 47.51 L365.5 47.34 L366 47.18 L366.5 47.02 L367 46.86 L367.5 46.69 L368 46.53 L368.5 46.36 L369 46.19 L369.5 46.03 L370 45.86 L370.5 45.69 L371 45.52 L371.5 45.35 L372 45.17 L372.5 45" fill="none" stroke="#008c00" stroke-width="1.7" stroke-linejoin="round"/><path d="M449.4 75.9 L449.9 75.9 L450.4 75.9 L450.9 75.9 L451.4 75.9 L451.9 75.9 L452.4 75.9 L452.9 75.9 L453.4 75.9 L453.9 75.9 L454.4 75.9 L454.9 75.9 L455.4 75.9 L455.9 75.9 L456.4 75.9 L456.9 75.9 L457.4 75.9 L457.9 75.9 L458.4 75.9 L458.9 75.9 L459.4 75.9 L459.9 75.9 L460.4 75.9 L460.9 75.9 L461.4 75.9 L461.9 75.9 L462.4 75.9 L462.9 75.9 L463.4 75.9 L463.9 75.9 L464.4 75.9 L464.9 75.9 L465.4 75.9 L465.9 75.9 L466.4 75.9 L466.9 75.9 L467.4 75.9 L467.9 75.9 L468.4 75.9 L468.9 75.9 L469.4 75.9 L469.9 75.9 L470.4 75.9 L470.9 75.9 L471.4 75.9 L471.9 75.9 L472.4 75.9 L472.9 75.9 L473.4 75.9 L473.9 75.9 L474.4 75.9 L474.9 75.9 L475.4 75.9 L475.9 75.9 L476.4 75.9 L476.9 75.9 L477.4 75.9 L477.9 75.9 L478.4 75.9 L478.9 75.9 L479.4 75.9 L479.9 75.9 L480.4 75.9 L480.9 75.9 L481.4 75.9 L481.9 75.9 L482.4 75.9 L482.9 75.9 L483.4 75.9 L483.9 75.9 L484.4 75.9 L484.9 75.9 L485.4 75.9 L485.9 75.9 L486.4 75.9 L486.9 75.9 L487.4 75.9 L487.9 75.9 L488.4 75.9 L488.9 75.9 L489.4 75.9 L489.9 75.9 L490.4 75.9 L490.9 75.9 L491.4 75.9 L491.9 75.9 L492.4 75.9 L492.9 75.9 L493.4 75.9 L493.9 75.9 L494.4 75.9 L494.9 75.9 L495.4 75.9 L495.9 75.9 L496.4 75.9 L496.9 75.9 L497.4 75.9 L497.9 75.9 L498.4 75.9 L498.9 75.9 L499.4 75.9 L499.9 75.9 L500.4 75.9 L500.9 75.9 L501.4 75.9 L501.9 75.9 L502.4 75.9 L502.9 75.9 L503.4 75.9 L503.9 75.9 L504.4 75.9 L504.9 75.9 L505.4 75.9 L505.9 75.9 L506.4 75.9 L506.9 75.9 L507.4 75.9 L507.9 75.9 L508.4 75.9 L508.9 75.9 L509.4 75.9 L509.9 75.93 L510.4 75.97 L510.9 76.02 L511.4 76.07 L511.9 76.13 L512.4 76.19 L512.9 76.26 L513.4 76.33 L513.9 76.42 L514.4 76.5 L514.9 76.6 L515.4 76.71 L515.9 76.83 L516.4 76.96 L516.9 77.1 L517.4 77.26 L517.9 77.44 L518.4 77.64 L518.9 77.86 L519.4 78.11 L519.9 78.39 L520.4 78.71 L520.9 79.08 L521.4 79.5 L521.9 80 L522.4 80.59 L522.9 81.31 L523.4 82.19 L523.9 83.33 L524.4 84.87 L524.9 87.2 L525.4 91.66 L525.8 91.7 L525.9 91.7 L526.4 88.89 L526.9 85.24 L527.4 82.94 L527.9 81.24 L528.4 79.88 L528.9 78.73 L529.4 77.75 L529.9 76.88 L530.4 76.11 L530.9 75.4 L531.4 74.75 L531.9 74.14 L532.4 73.57 L532.9 73.03 L533.4 72.52 L533.9 72.03 L534.4 71.57 L534.9 71.12 L535.4 70.68 L535.9 70.26 L536.4 69.85 L536.9 69.45 L537.4 69.07 L537.9 68.69 L538.4 68.33 L538.9 67.97 L539.4 67.6 L539.9 67.24 L540.4 66.89 L540.9 66.55 L541.4 66.22 L541.9 65.9 L542.4 65.59 L542.9 65.28 L543.4 64.97 L543.9 64.68 L544.4 64.38 L544.9 64.09 L545.4 63.81 L545.9 63.53 L546.4 63.25 L546.9 62.98 L547.4 62.71 L547.9 62.45 L548.4 62.19 L548.9 61.93 L549.4 61.67 L549.9 61.42 L550.4 61.17 L550.9 60.92 L551.4 60.68 L551.9 60.43 L552.4 60.19 L552.9 59.95 L553.4 59.72 L553.9 59.48 L554.4 59.25 L554.9 59.02 L555.4 58.79 L555.9 58.56 L556.4 58.34 L556.9 58.11 L557.4 57.89 L557.9 57.67 L558.4 57.45 L558.9 57.23 L559.4 57.02 L559.9 56.8 L560.4 56.59 L560.9 56.38 L561.4 56.17 L561.9 55.96 L562.4 55.76 L562.9 55.55 L563.4 55.34 L563.9 55.14 L564.4 54.94 L564.9 54.74 L565.4 54.54 L565.9 54.34 L566.4 54.14 L566.9 53.94 L567.4 53.75 L567.9 53.55 L568.4 53.36 L568.9 53.16 L569.4 52.97 L569.9 52.78 L570.4 52.59 L570.9 52.39 L571.4 52.2 L571.9 52.02 L572.4 51.83 L572.9 51.64 L573.4 51.45 L573.9 51.26 L574.4 51.08 L574.9 50.89 L575.4 50.71 L575.9 50.52 L576.4 50.34 L576.9 50.16 L577.4 49.98 L577.9 49.81 L578.4 49.63 L578.9 49.45 L579.4 49.28 L579.9 49.1 L580.2 49" fill="none" stroke="#0010ff" stroke-width="1.7" stroke-linejoin="round"/><path d="M449.4 75.9 L449.9 75.9 L450.4 75.9 L450.9 75.9 L451.4 75.9 L451.9 75.9 L452.4 75.9 L452.9 75.9 L453.4 75.9 L453.9 75.9 L454.4 75.9 L454.9 75.9 L455.4 75.9 L455.9 75.9 L456.4 75.9 L456.9 75.9 L457.4 75.9 L457.9 75.9 L458.4 75.9 L458.9 75.9 L459.4 75.9 L459.9 75.9 L460.4 75.9 L460.9 75.9 L461.4 75.9 L461.9 75.9 L462.4 75.9 L462.9 75.9 L463.4 75.9 L463.9 75.9 L464.4 75.9 L464.9 75.9 L465.4 75.9 L465.9 75.9 L466.4 75.9 L466.9 75.9 L467.4 75.9 L467.9 75.9 L468.4 75.9 L468.9 75.9 L469.4 75.9 L469.9 75.9 L470.4 75.9 L470.9 75.9 L471.4 75.9 L471.9 75.9 L472.4 75.9 L472.9 75.9 L473.4 75.9 L473.9 75.9 L474.4 75.9 L474.9 75.9 L475.4 75.9 L475.9 75.9 L476.4 75.9 L476.9 75.9 L477.4 75.9 L477.9 75.9 L478.4 75.9 L478.9 75.9 L479.4 75.9 L479.9 75.9 L480.4 75.9 L480.9 75.9 L481.4 75.9 L481.9 75.9 L482.4 75.9 L482.9 75.9 L483.4 75.9 L483.9 75.9 L484.4 75.9 L484.9 75.9 L485.4 75.9 L485.9 75.9 L486.4 75.9 L486.9 75.9 L487.4 75.9 L487.9 75.9 L488.4 75.9 L488.9 75.9 L489.4 75.9 L489.9 75.9 L490.4 75.9 L490.9 75.9 L491.4 75.9 L491.9 75.9 L492.4 75.9 L492.9 75.9 L493.4 75.9 L493.9 75.9 L494.4 75.9 L494.9 75.9 L495.4 75.9 L495.9 75.9 L496.4 75.9 L496.9 75.9 L497.4 75.9 L497.9 75.9 L498.4 75.9 L498.9 75.9 L499.4 75.9 L499.9 75.9 L500.4 75.9 L500.9 75.9 L501.4 75.9 L501.9 75.9 L502.4 75.9 L502.9 75.9 L503.4 75.9 L503.9 75.9 L504.4 75.9 L504.9 75.9 L505.4 75.9 L505.9 75.9 L506.4 75.9 L506.9 75.9 L507.4 75.9 L507.9 75.9 L508.4 75.9 L508.9 75.9 L509.4 75.9 L509.9 75.9 L510.4 75.9 L510.9 75.9 L511.4 75.9 L511.9 75.9 L512.4 75.9 L512.9 75.9 L513.4 75.9 L513.9 75.9 L514.4 75.9 L514.9 75.9 L515.4 75.9 L515.9 75.9 L516.4 75.9 L516.9 75.9 L517.4 75.9 L517.9 75.9 L518.4 75.9 L518.9 75.9 L519.4 75.91 L519.9 75.95 L520.4 76 L520.9 76.05 L521.4 76.11 L521.9 76.17 L522.4 76.23 L522.9 76.3 L523.4 76.38 L523.9 76.47 L524.4 76.56 L524.9 76.67 L525.4 76.78 L525.9 76.9 L526.4 77.04 L526.9 77.2 L527.4 77.37 L527.9 77.56 L528.4 77.77 L528.9 78.01 L529.4 78.27 L529.9 78.58 L530.4 78.93 L530.9 79.33 L531.4 79.79 L531.9 80.34 L532.4 81 L532.9 81.81 L533.4 82.83 L533.9 84.19 L534.4 86.13 L534.9 89.41 L535.4 92.7 L535.5 92.7 L535.9 91.28 L536.4 86.46 L536.9 83.76 L537.4 81.86 L537.9 80.39 L538.4 79.17 L538.9 78.13 L539.4 77.22 L539.9 76.41 L540.4 75.68 L540.9 75.01 L541.4 74.38 L541.9 73.8 L542.4 73.25 L542.9 72.72 L543.4 72.23 L543.9 71.75 L544.4 71.3 L544.9 70.86 L545.4 70.43 L545.9 70.01 L546.4 69.61 L546.9 69.22 L547.4 68.84 L547.9 68.47 L548.4 68.11 L548.9 67.75 L549.4 67.4 L549.9 67.05 L550.4 66.72 L550.9 66.39 L551.4 66.08 L551.9 65.77 L552.4 65.46 L552.9 65.16 L553.4 64.87 L553.9 64.58 L554.4 64.3 L554.9 64.02 L555.4 63.75 L555.9 63.48 L556.4 63.21 L556.9 62.95 L557.4 62.69 L557.9 62.43 L558.4 62.18 L558.9 61.93 L559.4 61.68 L559.9 61.44 L560.4 61.2 L560.9 60.96 L561.4 60.72 L561.9 60.49 L562.4 60.26 L562.9 60.03 L563.4 59.8 L563.9 59.57 L564.4 59.35 L564.9 59.12 L565.4 58.9 L565.9 58.68 L566.4 58.46 L566.9 58.25 L567.4 58.03 L567.9 57.82 L568.4 57.61 L568.9 57.4 L569.4 57.19 L569.9 56.99 L570.4 56.78 L570.9 56.58 L571.4 56.38 L571.9 56.18 L572.4 55.98 L572.9 55.78 L573.4 55.58 L573.9 55.39 L574.4 55.19 L574.9 55 L575.4 54.8 L575.9 54.61 L576.4 54.42 L576.9 54.23 L577.4 54.04 L577.9 53.85 L578.4 53.67 L578.9 53.48 L579.4 53.3 L579.9 53.11 L580.2 53" fill="none" stroke="#ff8410" stroke-width="1.7" stroke-linejoin="round"/><path d="M449.4 75.9 L449.9 75.9 L450.4 75.9 L450.9 75.9 L451.4 75.9 L451.9 75.9 L452.4 75.9 L452.9 75.9 L453.4 75.9 L453.9 75.9 L454.4 75.9 L454.9 75.9 L455.4 75.9 L455.9 75.9 L456.4 75.9 L456.9 75.9 L457.4 75.9 L457.9 75.9 L458.4 75.9 L458.9 75.9 L459.4 75.9 L459.9 75.9 L460.4 75.9 L460.9 75.9 L461.4 75.9 L461.9 75.9 L462.4 75.9 L462.9 75.9 L463.4 75.9 L463.9 75.9 L464.4 75.9 L464.9 75.9 L465.4 75.9 L465.9 75.9 L466.4 75.9 L466.9 75.9 L467.4 75.9 L467.9 75.9 L468.4 75.9 L468.9 75.9 L469.4 75.9 L469.9 75.9 L470.4 75.9 L470.9 75.9 L471.4 75.9 L471.9 75.9 L472.4 75.9 L472.9 75.9 L473.4 75.9 L473.9 75.9 L474.4 75.9 L474.9 75.9 L475.4 75.9 L475.9 75.9 L476.4 75.9 L476.9 75.9 L477.4 75.9 L477.9 75.9 L478.4 75.9 L478.9 75.9 L479.4 75.9 L479.9 75.9 L480.4 75.9 L480.9 75.9 L481.4 75.9 L481.9 75.9 L482.4 75.9 L482.9 75.9 L483.4 75.9 L483.9 75.9 L484.4 75.9 L484.9 75.9 L485.4 75.9 L485.9 75.9 L486.4 75.9 L486.9 75.9 L487.4 75.9 L487.9 75.9 L488.4 75.9 L488.9 75.9 L489.4 75.9 L489.9 75.9 L490.4 75.9 L490.9 75.9 L491.4 75.9 L491.9 75.9 L492.4 75.9 L492.9 75.9 L493.4 75.9 L493.9 75.9 L494.4 75.9 L494.9 75.9 L495.4 75.9 L495.9 75.9 L496.4 75.9 L496.9 75.9 L497.4 75.9 L497.9 75.9 L498.4 75.9 L498.9 75.9 L499.4 75.9 L499.9 75.9 L500.4 75.9 L500.9 75.9 L501.4 75.9 L501.9 75.9 L502.4 75.9 L502.9 75.9 L503.4 75.9 L503.9 75.9 L504.4 75.9 L504.9 75.9 L505.4 75.9 L505.9 75.9 L506.4 75.9 L506.9 75.9 L507.4 75.9 L507.9 75.9 L508.4 75.9 L508.9 75.9 L509.4 75.9 L509.9 75.9 L510.4 75.9 L510.9 75.9 L511.4 75.9 L511.9 75.9 L512.4 75.9 L512.9 75.9 L513.4 75.9 L513.9 75.9 L514.4 75.9 L514.9 75.9 L515.4 75.9 L515.9 75.9 L516.4 75.9 L516.9 75.9 L517.4 75.9 L517.9 75.9 L518.4 75.9 L518.9 75.9 L519.4 75.9 L519.9 75.9 L520.4 75.9 L520.9 75.9 L521.4 75.9 L521.9 75.9 L522.4 75.9 L522.9 75.9 L523.4 75.9 L523.9 75.9 L524.4 75.9 L524.9 75.9 L525.4 75.9 L525.9 75.9 L526.4 75.9 L526.9 75.92 L527.4 75.96 L527.9 76.01 L528.4 76.06 L528.9 76.12 L529.4 76.18 L529.9 76.25 L530.4 76.32 L530.9 76.4 L531.4 76.49 L531.9 76.58 L532.4 76.69 L532.9 76.8 L533.4 76.93 L533.9 77.07 L534.4 77.23 L534.9 77.4 L535.4 77.6 L535.9 77.81 L536.4 78.06 L536.9 78.33 L537.4 78.64 L537.9 79 L538.4 79.41 L538.9 79.9 L539.4 80.47 L539.9 81.15 L540.4 82 L540.9 83.07 L541.4 84.52 L541.9 86.64 L542.4 90.42 L542.9 92.7 L543.4 89.97 L543.9 85.82 L544.4 83.34 L544.9 81.54 L545.4 80.13 L545.9 78.95 L546.4 77.94 L546.9 77.05 L547.4 76.26 L547.9 75.54 L548.4 74.88 L548.9 74.26 L549.4 73.68 L549.9 73.14 L550.4 72.62 L550.9 72.13 L551.4 71.66 L551.9 71.21 L552.4 70.77 L552.9 70.34 L553.4 69.93 L553.9 69.53 L554.4 69.14 L554.9 68.77 L555.4 68.4 L555.9 68.04 L556.4 67.68 L556.9 67.32 L557.4 66.98 L557.9 66.64 L558.4 66.31 L558.9 66 L559.4 65.69 L559.9 65.38 L560.4 65.08 L560.9 64.79 L561.4 64.5 L561.9 64.21 L562.4 63.93 L562.9 63.66 L563.4 63.38 L563.9 63.12 L564.4 62.85 L564.9 62.59 L565.4 62.33 L565.9 62.08 L566.4 61.83 L566.9 61.58 L567.4 61.33 L567.9 61.09 L568.4 60.85 L568.9 60.61 L569.4 60.37 L569.9 60.14 L570.4 59.91 L570.9 59.68 L571.4 59.45 L571.9 59.22 L572.4 59 L572.9 58.77 L573.4 58.55 L573.9 58.33 L574.4 58.11 L574.9 57.9 L575.4 57.68 L575.9 57.47 L576.4 57.26 L576.9 57.05 L577.4 56.84 L577.9 56.63 L578.4 56.43 L578.9 56.22 L579.4 56.02 L579.9 55.82 L580.2 55.7" fill="none" stroke="#008c00" stroke-width="1.7" stroke-linejoin="round"/><path d="M38 208.9 L38.5 208.9 L39 208.9 L39.5 208.9 L40 208.9 L40.5 208.9 L41 208.9 L41.5 208.9 L42 208.9 L42.5 208.9 L43 208.9 L43.5 208.9 L44 208.9 L44.5 208.9 L45 208.9 L45.5 208.9 L46 208.9 L46.5 208.9 L47 208.9 L47.5 208.9 L48 208.9 L48.5 208.9 L49 208.9 L49.5 208.9 L50 208.9 L50.5 208.9 L51 208.9 L51.5 208.9 L52 208.9 L52.5 208.9 L53 208.9 L53.5 208.9 L54 208.9 L54.5 208.9 L55 208.9 L55.5 209.75 L56 214.26 L56.2 214.5 L56.5 214.5 L57 213.98 L57.5 210.82 L58 208.85 L58.5 207.63 L59 206.7 L59.5 205.93 L60 205.28 L60.5 204.71 L61 204.21 L61.5 203.75 L62 203.31 L62.5 202.88 L63 202.45 L63.5 202 L64 201.57 L64.5 201.15 L65 200.76 L65.5 200.37 L66 200 L66.5 199.64 L67 199.28 L67.5 198.93 L68 198.59 L68.5 198.25 L69 197.9 L69.5 197.56 L70 197.22 L70.5 196.88 L71 196.55 L71.5 196.22 L72 195.9 L72.5 195.59 L73 195.29 L73.5 195 L74 194.73 L74.5 194.47 L75 194.22 L75.5 193.98 L76 193.75 L76.5 193.52 L77 193.3 L77.5 193.09 L78 192.88 L78.5 192.68 L79 192.48 L79.5 192.28 L80 192.09 L80.5 191.9 L81 191.71 L81.5 191.52 L82 191.34 L82.5 191.15 L83 190.96 L83.5 190.78 L84 190.59 L84.5 190.4 L85 190.2 L85.5 190.01 L86 189.81 L86.5 189.62 L87 189.43 L87.5 189.23 L88 189.04 L88.5 188.85 L89 188.65 L89.5 188.46 L90 188.27 L90.5 188.07 L91 187.88 L91.5 187.69 L92 187.5 L92.5 187.31 L93 187.11 L93.5 186.92 L94 186.73 L94.5 186.54 L95 186.35 L95.5 186.16 L96 185.97 L96.5 185.78 L97 185.59 L97.5 185.4 L98 185.21 L98.5 185.02 L99 184.83 L99.5 184.64 L100 184.46 L100.5 184.27 L101 184.08 L101.5 183.89 L102 183.71 L102.5 183.52 L103 183.33 L103.5 183.15 L104 182.96 L104.5 182.78 L105 182.59 L105.5 182.41 L106 182.23 L106.5 182.04 L107 181.86 L107.5 181.68 L108 181.5 L108.5 181.32 L109 181.13 L109.5 180.95 L110 180.77 L110.5 180.59 L111 180.42 L111.5 180.24 L112 180.06 L112.5 179.88 L113 179.71 L113.5 179.53 L114 179.35 L114.5 179.18 L115 179.01 L115.5 178.83 L116 178.66 L116.5 178.49 L117 178.31 L117.5 178.14 L118 177.97 L118.5 177.8 L119 177.63 L119.5 177.47 L120 177.3 L120.5 177.13 L121 176.97 L121.5 176.8 L122 176.64 L122.5 176.47 L123 176.31 L123.5 176.15 L124 175.99 L124.5 175.83 L125 175.67 L125.5 175.51 L126 175.36 L126.5 175.21 L127 175.06 L127.5 174.91 L128 174.76 L128.5 174.61 L129 174.46 L129.5 174.32 L130 174.17 L130.5 174.02 L131 173.88 L131.5 173.73 L132 173.59 L132.5 173.44 L133 173.29 L133.5 173.15 L134 173 L134.5 172.85 L135 172.7 L135.5 172.55 L136 172.4 L136.5 172.24 L137 172.09 L137.5 171.93 L138 171.77 L138.5 171.62 L139 171.46 L139.5 171.3 L140 171.14 L140.5 170.98 L141 170.82 L141.5 170.66 L142 170.5 L142.5 170.33 L143 170.17 L143.5 170.01 L144 169.84 L144.5 169.68 L145 169.52 L145.5 169.35 L146 169.19 L146.5 169.02 L147 168.86 L147.5 168.69 L148 168.53 L148.5 168.36 L149 168.19 L149.5 168.03 L150 167.86 L150.5 167.69 L151 167.52 L151.5 167.36 L152 167.19 L152.5 167.02 L153 166.85 L153.5 166.69 L154 166.52 L154.5 166.35 L155 166.18 L155.5 166.01 L156 165.85 L156.5 165.68 L157 165.51 L157.5 165.34 L158 165.17 L158.5 165.01 L159 164.84 L159.5 164.67 L160 164.5 L160.5 164.33 L161 164.17 L161.5 164" fill="none" stroke="#0010ff" stroke-width="1.7" stroke-linejoin="round"/><path d="M42.7 210.7H47.8" fill="none" stroke="#0010ff" stroke-width="1.7"/><path d="M38 208.9 L38.5 208.9 L39 208.9 L39.5 208.9 L40 208.9 L40.5 208.9 L41 208.9 L41.5 208.9 L42 208.9 L42.5 208.9 L43 208.9 L43.5 208.9 L44 208.9 L44.5 208.9 L45 208.9 L45.5 208.9 L46 208.9 L46.5 208.9 L47 208.9 L47.5 208.9 L48 208.9 L48.5 208.9 L49 208.9 L49.5 208.9 L50 208.9 L50.5 208.9 L51 208.9 L51.5 208.9 L52 208.9 L52.5 208.9 L53 208.9 L53.5 208.9 L54 208.9 L54.5 208.9 L55 208.9 L55.5 208.9 L56 210.4 L56.5 210.4 L57 210.4 L57.5 210.4 L58 210.4 L58.5 210.4 L59 210.4 L59.5 210.4 L60 210.4 L60.5 210.4 L61 210.4 L61.5 210.4 L62 210.4 L62.5 210.4 L63 210.4 L63.5 210.4 L64 210.4 L64.5 210.4 L65 210.4 L65.5 210.4 L66 210.4 L66.5 210.4 L67 210.4 L67.5 210.4 L68 210.4 L68.5 210.4 L69 210.4 L69.5 210.4 L70 210.4 L70.5 210.4 L71 210.4 L71.5 210.4 L72 210.4 L72.5 210.4 L73 210.4 L73.5 210.4 L74 210.4 L74.5 210.4 L75 210.4 L75.5 210.4 L76 210.4 L76.5 210.4 L77 210.4 L77.5 210.41 L78 210.44 L78.5 210.53 L79 210.81 L79.5 211.75 L80 215.5 L80.2 215.5 L80.5 215.5 L81 213.98 L81.5 210.82 L82 208.85 L82.5 207.63 L83 206.7 L83.5 205.93 L84 205.28 L84.5 204.71 L85 204.21 L85.5 203.75 L86 203.31 L86.5 202.88 L87 202.45 L87.5 202 L88 201.57 L88.5 201.15 L89 200.76 L89.5 200.37 L90 200 L90.5 199.64 L91 199.28 L91.5 198.93 L92 198.59 L92.5 198.25 L93 197.9 L93.5 197.56 L94 197.22 L94.5 196.88 L95 196.54 L95.5 196.22 L96 195.9 L96.5 195.59 L97 195.29 L97.5 195 L98 194.72 L98.5 194.46 L99 194.22 L99.5 193.98 L100 193.74 L100.5 193.52 L101 193.3 L101.5 193.09 L102 192.88 L102.5 192.68 L103 192.48 L103.5 192.28 L104 192.09 L104.5 191.89 L105 191.71 L105.5 191.52 L106 191.33 L106.5 191.14 L107 190.96 L107.5 190.77 L108 190.58 L108.5 190.39 L109 190.2 L109.5 190 L110 189.81 L110.5 189.61 L111 189.42 L111.5 189.22 L112 189.03 L112.5 188.84 L113 188.64 L113.5 188.45 L114 188.26 L114.5 188.06 L115 187.87 L115.5 187.68 L116 187.49 L116.5 187.29 L117 187.1 L117.5 186.91 L118 186.72 L118.5 186.53 L119 186.34 L119.5 186.15 L120 185.96 L120.5 185.77 L121 185.58 L121.5 185.39 L122 185.2 L122.5 185.01 L123 184.82 L123.5 184.63 L124 184.44 L124.5 184.25 L125 184.07 L125.5 183.88 L126 183.69 L126.5 183.5 L127 183.32 L127.5 183.13 L128 182.95 L128.5 182.76 L129 182.58 L129.5 182.39 L130 182.21 L130.5 182.03 L131 181.84 L131.5 181.66 L132 181.48 L132.5 181.3 L133 181.12 L133.5 180.94 L134 180.76 L134.5 180.58 L135 180.4 L135.5 180.22 L136 180.04 L136.5 179.86 L137 179.69 L137.5 179.51 L138 179.33 L138.5 179.16 L139 178.98 L139.5 178.81 L140 178.64 L140.5 178.46 L141 178.29 L141.5 178.12 L142 177.95 L142.5 177.78 L143 177.61 L143.5 177.44 L144 177.28 L144.5 177.11 L145 176.94 L145.5 176.78 L146 176.61 L146.5 176.45 L147 176.28 L147.5 176.12 L148 175.96 L148.5 175.8 L149 175.64 L149.5 175.49 L150 175.33 L150.5 175.18 L151 175.03 L151.5 174.88 L152 174.73 L152.5 174.58 L153 174.44 L153.5 174.29 L154 174.14 L154.5 174 L155 173.85 L155.5 173.7 L156 173.56 L156.5 173.41 L157 173.26 L157.5 173.12 L158 172.97 L158.5 172.82 L159 172.67 L159.5 172.52 L160 172.37 L160.5 172.21 L161 172.06 L161.5 171.9" fill="none" stroke="#ff8410" stroke-width="1.7" stroke-linejoin="round"/><path d="M38 208.9 L38.5 208.9 L39 208.9 L39.5 208.9 L40 208.9 L40.5 208.9 L41 208.9 L41.5 208.9 L42 208.9 L42.5 208.9 L43 208.9 L43.5 208.9 L44 208.9 L44.5 208.9 L45 208.9 L45.5 208.9 L46 208.9 L46.5 208.9 L47 208.9 L47.5 208.9 L48 208.9 L48.5 208.9 L49 208.9 L49.5 208.9 L50 208.9 L50.5 208.9 L51 208.9 L51.5 208.9 L52 208.9 L52.5 208.9 L53 208.9 L53.5 208.9 L54 208.9 L54.5 208.9 L55 208.9 L55.5 208.9 L56 208.9 L56.5 208.9 L57 208.9 L57.5 208.9 L58 208.9 L58.5 208.9 L59 208.9 L59.5 208.9 L60 208.9 L60.5 208.9 L61 208.9 L61.5 208.9 L62 208.9 L62.5 208.9 L63 208.9 L63.5 208.9 L64 208.9 L64.5 208.9 L65 208.9 L65.5 208.9 L66 208.9 L66.5 208.9 L67 208.9 L67.5 208.9 L68 208.9 L68.5 208.9 L69 208.9 L69.5 208.9 L70 208.9 L70.5 208.9 L71 208.9 L71.5 208.9 L72 208.9 L72.5 208.9 L73 208.9 L73.5 208.9 L74 208.9 L74.5 208.9 L75 208.9 L75.5 208.9 L76 208.9 L76.5 208.9 L77 208.9 L77.5 208.9 L78 208.9 L78.5 208.9 L79 208.9 L79.5 208.9 L80 208.9 L80.5 208.9 L81 208.9 L81.5 208.9 L82 208.9 L82.5 208.9 L83 210.9 L83.5 210.9 L84 210.9 L84.5 210.9 L85 210.9 L85.5 210.9 L86 210.9 L86.5 210.9 L87 210.9 L87.5 210.9 L88 210.9 L88.5 210.9 L89 210.9 L89.5 210.9 L90 210.9 L90.5 210.9 L91 210.9 L91.5 210.91 L92 210.94 L92.5 211.03 L93 211.31 L93.5 212.25 L94 216.76 L94.2 217.7 L94.5 217.7 L95 213.98 L95.5 210.82 L96 208.85 L96.5 207.63 L97 206.7 L97.5 205.93 L98 205.28 L98.5 204.71 L99 204.21 L99.5 203.75 L100 203.31 L100.5 202.88 L101 202.45 L101.5 202 L102 201.57 L102.5 201.15 L103 200.76 L103.5 200.37 L104 200 L104.5 199.64 L105 199.28 L105.5 198.93 L106 198.59 L106.5 198.25 L107 197.9 L107.5 197.56 L108 197.21 L108.5 196.87 L109 196.54 L109.5 196.21 L110 195.89 L110.5 195.58 L111 195.27 L111.5 194.99 L112 194.71 L112.5 194.45 L113 194.2 L113.5 193.96 L114 193.73 L114.5 193.5 L115 193.28 L115.5 193.07 L116 192.86 L116.5 192.65 L117 192.45 L117.5 192.25 L118 192.06 L118.5 191.87 L119 191.68 L119.5 191.49 L120 191.3 L120.5 191.11 L121 190.92 L121.5 190.73 L122 190.54 L122.5 190.35 L123 190.16 L123.5 189.96 L124 189.77 L124.5 189.57 L125 189.38 L125.5 189.18 L126 188.99 L126.5 188.79 L127 188.6 L127.5 188.4 L128 188.21 L128.5 188.01 L129 187.82 L129.5 187.63 L130 187.43 L130.5 187.24 L131 187.05 L131.5 186.85 L132 186.66 L132.5 186.47 L133 186.28 L133.5 186.09 L134 185.89 L134.5 185.7 L135 185.51 L135.5 185.32 L136 185.13 L136.5 184.94 L137 184.75 L137.5 184.56 L138 184.37 L138.5 184.18 L139 183.99 L139.5 183.8 L140 183.62 L140.5 183.43 L141 183.24 L141.5 183.05 L142 182.87 L142.5 182.68 L143 182.5 L143.5 182.31 L144 182.13 L144.5 181.94 L145 181.76 L145.5 181.57 L146 181.39 L146.5 181.21 L147 181.03 L147.5 180.84 L148 180.66 L148.5 180.48 L149 180.3 L149.5 180.12 L150 179.94 L150.5 179.77 L151 179.59 L151.5 179.41 L152 179.23 L152.5 179.06 L153 178.88 L153.5 178.71 L154 178.53 L154.5 178.36 L155 178.19 L155.5 178.01 L156 177.84 L156.5 177.67 L157 177.5 L157.5 177.33 L158 177.16 L158.5 176.99 L159 176.83 L159.5 176.66 L160 176.49 L160.5 176.33 L161 176.16 L161.5 176" fill="none" stroke="#008c00" stroke-width="1.7" stroke-linejoin="round"/><path d="M245 208.9 L245.5 208.9 L246 208.9 L246.5 208.9 L247 208.9 L247.5 208.9 L248 208.9 L248.5 208.9 L249 208.9 L249.5 208.9 L250 208.9 L250.5 208.9 L251 208.9 L251.5 208.9 L252 208.9 L252.5 208.9 L253 208.9 L253.5 208.9 L254 208.9 L254.5 208.9 L255 208.9 L255.5 208.9 L256 208.9 L256.5 208.9 L257 208.9 L257.5 208.9 L258 208.9 L258.5 208.9 L259 208.9 L259.5 208.9 L260 208.9 L260.5 208.9 L261 208.9 L261.5 208.9 L262 208.9 L262.5 208.9 L263 208.9 L263.5 208.91 L264 208.91 L264.5 208.91 L265 208.91 L265.5 208.91 L266 208.91 L266.5 208.91 L267 208.91 L267.5 208.91 L268 208.91 L268.5 208.91 L269 208.91 L269.5 208.92 L270 208.92 L270.5 208.92 L271 208.92 L271.5 208.92 L272 208.92 L272.5 208.93 L273 208.93 L273.5 208.93 L274 208.94 L274.5 208.94 L275 208.94 L275.5 208.95 L276 208.95 L276.5 208.96 L277 210.76 L277.5 210.77 L278 210.77 L278.5 210.78 L279 210.79 L279.5 210.79 L280 210.8 L280.5 210.81 L281 210.82 L281.5 210.84 L282 210.85 L282.5 210.86 L283 210.88 L283.5 210.9 L284 210.92 L284.5 210.94 L285 210.96 L285.5 210.98 L286 211.01 L286.5 211.04 L287 211.07 L287.5 211.11 L288 211.15 L288.5 211.19 L289 211.24 L289.5 211.3 L290 211.36 L290.5 211.42 L291 211.49 L291.5 211.58 L292 211.66 L292.5 211.76 L293 211.88 L293.5 212 L294 212.14 L294.5 212.29 L295 212.47 L295.5 212.67 L296 212.89 L296.5 213.15 L297 213.44 L297.5 213.78 L298 214.18 L298.5 214.64 L299 215.2 L299.5 215.88 L300 216.73 L300.5 217.84 L301 219.35 L301.5 221.64 L302 226.05 L302.4 227.2 L302.5 227.2 L303 221.24 L303.5 217.64 L304 215.4 L304.5 213.77 L305 212.5 L305.5 211.48 L306 210.61 L306.5 209.86 L307 209.18 L307.5 208.54 L308 207.95 L308.5 207.39 L309 206.87 L309.5 206.37 L310 205.9 L310.5 205.45 L311 205.01 L311.5 204.59 L312 204.18 L312.5 203.78 L313 203.39 L313.5 203.01 L314 202.63 L314.5 202.26 L315 201.88 L315.5 201.51 L316 201.14 L316.5 200.77 L317 200.4 L317.5 200.04 L318 199.68 L318.5 199.33 L319 198.99 L319.5 198.65 L320 198.32 L320.5 198 L321 197.69 L321.5 197.39 L322 197.09 L322.5 196.81 L323 196.55 L323.5 196.29 L324 196.04 L324.5 195.8 L325 195.57 L325.5 195.34 L326 195.11 L326.5 194.89 L327 194.68 L327.5 194.46 L328 194.26 L328.5 194.05 L329 193.85 L329.5 193.66 L330 193.46 L330.5 193.27 L331 193.08 L331.5 192.9 L332 192.71 L332.5 192.53 L333 192.34 L333.5 192.16 L334 191.98 L334.5 191.8 L335 191.63 L335.5 191.45 L336 191.27 L336.5 191.09 L337 190.91 L337.5 190.73 L338 190.55 L338.5 190.37 L339 190.18 L339.5 190 L340 189.81 L340.5 189.62 L341 189.44 L341.5 189.25 L342 189.06 L342.5 188.88 L343 188.69 L343.5 188.51 L344 188.33 L344.5 188.14 L345 187.96 L345.5 187.78 L346 187.6 L346.5 187.41 L347 187.23 L347.5 187.05 L348 186.87 L348.5 186.69 L349 186.51 L349.5 186.33 L350 186.15 L350.5 185.97 L351 185.79 L351.5 185.61 L352 185.43 L352.5 185.26 L353 185.08 L353.5 184.9 L354 184.72 L354.5 184.54 L355 184.37 L355.5 184.19 L356 184.01 L356.5 183.83 L357 183.65 L357.5 183.48 L358 183.3 L358.5 183.12 L359 182.94 L359.5 182.77 L360 182.59 L360.5 182.41 L361 182.23 L361.5 182.05 L362 181.88 L362.5 181.7 L363 181.52 L363.5 181.34 L364 181.16 L364.5 180.98 L365 180.8 L365.5 180.62 L366 180.44 L366.5 180.27 L367 180.09 L367.5 179.9 L368 179.72 L368.5 179.54 L369 179.36 L369.5 179.18 L370 179" fill="none" stroke="#0010ff" stroke-width="1.7" stroke-linejoin="round"/><path d="M245 208.9 L245.5 208.9 L246 208.9 L246.5 208.9 L247 208.9 L247.5 208.9 L248 208.9 L248.5 208.9 L249 208.9 L249.5 208.9 L250 208.9 L250.5 208.9 L251 208.9 L251.5 208.9 L252 208.9 L252.5 208.9 L253 208.9 L253.5 208.9 L254 208.9 L254.5 208.9 L255 208.9 L255.5 208.9 L256 208.9 L256.5 208.9 L257 208.9 L257.5 208.9 L258 208.9 L258.5 208.9 L259 208.9 L259.5 208.9 L260 208.9 L260.5 208.9 L261 208.9 L261.5 208.9 L262 208.9 L262.5 208.9 L263 208.9 L263.5 208.9 L264 208.9 L264.5 208.9 L265 208.9 L265.5 208.9 L266 208.9 L266.5 208.9 L267 208.9 L267.5 208.9 L268 208.9 L268.5 208.9 L269 208.9 L269.5 208.9 L270 208.9 L270.5 208.9 L271 208.9 L271.5 208.9 L272 208.9 L272.5 208.9 L273 208.9 L273.5 208.9 L274 208.9 L274.5 208.9 L275 208.9 L275.5 208.9 L276 208.91 L276.5 208.91 L277 208.91 L277.5 208.91 L278 208.91 L278.5 208.91 L279 208.91 L279.5 208.91 L280 208.91 L280.5 208.91 L281 208.91 L281.5 208.91 L282 208.92 L282.5 208.92 L283 208.92 L283.5 208.92 L284 208.92 L284.5 208.92 L285 208.93 L285.5 208.93 L286 208.93 L286.5 208.93 L287 208.94 L287.5 208.94 L288 208.94 L288.5 208.95 L289 208.95 L289.5 208.96 L290 208.96 L290.5 208.97 L291 208.98 L291.5 208.98 L292 208.99 L292.5 209 L293 209.01 L293.5 209.02 L294 209.03 L294.5 209.04 L295 209.06 L295.5 210.87 L296 210.89 L296.5 210.91 L297 210.93 L297.5 210.95 L298 210.97 L298.5 211 L299 211.03 L299.5 211.06 L300 211.1 L300.5 211.13 L301 211.18 L301.5 211.22 L302 211.27 L302.5 211.33 L303 211.39 L303.5 211.46 L304 211.54 L304.5 211.63 L305 211.72 L305.5 211.83 L306 211.95 L306.5 212.08 L307 212.23 L307.5 212.4 L308 212.58 L308.5 212.8 L309 213.04 L309.5 213.32 L310 213.64 L310.5 214.01 L311 214.45 L311.5 214.97 L312 215.59 L312.5 216.37 L313 217.36 L313.5 218.68 L314 220.58 L314.5 223.82 L315 226.95 L315.1 226.95 L315.5 223.63 L316 218.84 L316.5 216.2 L317 214.37 L317.5 212.97 L318 211.86 L318.5 210.94 L319 210.15 L319.5 209.44 L320 208.79 L320.5 208.18 L321 207.61 L321.5 207.07 L322 206.57 L322.5 206.09 L323 205.63 L323.5 205.18 L324 204.76 L324.5 204.34 L325 203.94 L325.5 203.55 L326 203.16 L326.5 202.78 L327 202.4 L327.5 202.03 L328 201.66 L328.5 201.3 L329 200.93 L329.5 200.57 L330 200.21 L330.5 199.86 L331 199.51 L331.5 199.17 L332 198.84 L332.5 198.51 L333 198.19 L333.5 197.88 L334 197.58 L334.5 197.29 L335 197.01 L335.5 196.75 L336 196.49 L336.5 196.25 L337 196.01 L337.5 195.77 L338 195.55 L338.5 195.33 L339 195.11 L339.5 194.9 L340 194.69 L340.5 194.49 L341 194.29 L341.5 194.09 L342 193.9 L342.5 193.71 L343 193.52 L343.5 193.34 L344 193.15 L344.5 192.97 L345 192.79 L345.5 192.62 L346 192.44 L346.5 192.27 L347 192.09 L347.5 191.92 L348 191.74 L348.5 191.57 L349 191.4 L349.5 191.22 L350 191.05 L350.5 190.87 L351 190.7 L351.5 190.52 L352 190.34 L352.5 190.16 L353 189.98 L353.5 189.79 L354 189.61 L354.5 189.43 L355 189.25 L355.5 189.07 L356 188.89 L356.5 188.71 L357 188.54 L357.5 188.36 L358 188.18 L358.5 188 L359 187.83 L359.5 187.65 L360 187.47 L360.5 187.3 L361 187.12 L361.5 186.95 L362 186.77 L362.5 186.6 L363 186.42 L363.5 186.25 L364 186.08 L364.5 185.9 L365 185.73 L365.5 185.56 L366 185.38 L366.5 185.21 L367 185.04 L367.5 184.86 L368 184.69 L368.5 184.52 L369 184.35 L369.5 184.17 L370 184" fill="none" stroke="#ff8410" stroke-width="1.7" stroke-linejoin="round"/><path d="M245 208.9 L245.5 208.9 L246 208.9 L246.5 208.9 L247 208.9 L247.5 208.9 L248 208.9 L248.5 208.9 L249 208.9 L249.5 208.9 L250 208.9 L250.5 208.9 L251 208.9 L251.5 208.9 L252 208.9 L252.5 208.9 L253 208.9 L253.5 208.9 L254 208.9 L254.5 208.9 L255 208.9 L255.5 208.9 L256 208.9 L256.5 208.9 L257 208.9 L257.5 208.9 L258 208.9 L258.5 208.9 L259 208.9 L259.5 208.9 L260 208.9 L260.5 208.9 L261 208.9 L261.5 208.9 L262 208.9 L262.5 208.9 L263 208.9 L263.5 208.9 L264 208.9 L264.5 208.9 L265 208.9 L265.5 208.9 L266 208.9 L266.5 208.9 L267 208.9 L267.5 208.9 L268 208.9 L268.5 208.9 L269 208.9 L269.5 208.9 L270 208.9 L270.5 208.9 L271 208.9 L271.5 208.9 L272 208.9 L272.5 208.9 L273 208.9 L273.5 208.9 L274 208.9 L274.5 208.9 L275 208.9 L275.5 208.9 L276 208.9 L276.5 208.9 L277 208.9 L277.5 208.9 L278 208.9 L278.5 208.9 L279 208.9 L279.5 208.9 L280 208.9 L280.5 208.9 L281 208.9 L281.5 208.9 L282 208.9 L282.5 208.9 L283 208.9 L283.5 208.9 L284 208.9 L284.5 208.9 L285 208.9 L285.5 208.9 L286 208.9 L286.5 208.91 L287 208.91 L287.5 208.91 L288 208.91 L288.5 208.91 L289 208.91 L289.5 208.91 L290 208.91 L290.5 208.91 L291 208.91 L291.5 208.91 L292 208.91 L292.5 208.92 L293 208.92 L293.5 208.92 L294 208.92 L294.5 208.92 L295 208.92 L295.5 208.93 L296 208.93 L296.5 208.93 L297 208.94 L297.5 208.94 L298 208.94 L298.5 208.95 L299 208.95 L299.5 208.96 L300 208.96 L300.5 208.97 L301 208.97 L301.5 208.98 L302 208.99 L302.5 209 L303 209.01 L303.5 209.02 L304 209.03 L304.5 209.04 L305 210.35 L305.5 210.37 L306 210.38 L306.5 210.4 L307 210.42 L307.5 210.44 L308 210.46 L308.5 210.49 L309 210.52 L309.5 210.55 L310 210.58 L310.5 210.62 L311 210.66 L311.5 210.7 L312 210.75 L312.5 210.81 L313 210.87 L313.5 210.94 L314 211.01 L314.5 211.09 L315 211.18 L315.5 211.29 L316 211.4 L316.5 211.53 L317 211.67 L317.5 211.83 L318 212.01 L318.5 212.21 L319 212.44 L319.5 212.7 L320 213 L320.5 213.35 L321 213.76 L321.5 214.25 L322 214.83 L322.5 215.54 L323 216.43 L323.5 217.6 L324 219.22 L324.5 221.76 L325 227.15 L325.3 229.2 L325.5 227.67 L326 220.33 L326.5 217.12 L327 215.03 L327.5 213.49 L328 212.28 L328.5 211.29 L329 210.46 L329.5 209.72 L330 209.05 L330.5 208.42 L331 207.83 L331.5 207.28 L332 206.77 L332.5 206.28 L333 205.81 L333.5 205.36 L334 204.93 L334.5 204.51 L335 204.1 L335.5 203.7 L336 203.31 L336.5 202.93 L337 202.55 L337.5 202.18 L338 201.81 L338.5 201.43 L339 201.05 L339.5 200.68 L340 200.31 L340.5 199.95 L341 199.59 L341.5 199.24 L342 198.89 L342.5 198.55 L343 198.22 L343.5 197.9 L344 197.58 L344.5 197.28 L345 196.99 L345.5 196.71 L346 196.44 L346.5 196.18 L347 195.93 L347.5 195.69 L348 195.45 L348.5 195.22 L349 194.99 L349.5 194.77 L350 194.55 L350.5 194.34 L351 194.13 L351.5 193.93 L352 193.72 L352.5 193.52 L353 193.33 L353.5 193.13 L354 192.94 L354.5 192.75 L355 192.56 L355.5 192.38 L356 192.19 L356.5 192.01 L357 191.83 L357.5 191.65 L358 191.46 L358.5 191.28 L359 191.1 L359.5 190.92 L360 190.74 L360.5 190.55 L361 190.37 L361.5 190.18 L362 190 L362.5 189.81 L363 189.62 L363.5 189.43 L364 189.24 L364.5 189.05 L365 188.86 L365.5 188.67 L366 188.48 L366.5 188.3 L367 188.11 L367.5 187.92 L368 187.74 L368.5 187.55 L369 187.37 L369.5 187.18 L370 187" fill="none" stroke="#008c00" stroke-width="1.7" stroke-linejoin="round"/><path d="M452.3 208.9 L452.8 208.9 L453.3 208.9 L453.8 208.9 L454.3 208.9 L454.8 208.9 L455.3 208.9 L455.8 208.9 L456.3 208.9 L456.8 208.9 L457.3 208.9 L457.8 208.9 L458.3 208.9 L458.8 208.9 L459.3 208.9 L459.8 208.9 L460.3 208.9 L460.8 208.9 L461.3 208.9 L461.8 208.9 L462.3 208.9 L462.8 208.9 L463.3 208.9 L463.8 208.9 L464.3 208.9 L464.8 208.9 L465.3 208.9 L465.8 208.9 L466.3 208.9 L466.8 208.9 L467.3 208.9 L467.8 208.9 L468.3 208.9 L468.8 208.9 L469.3 208.9 L469.8 208.9 L470.3 208.9 L470.8 208.9 L471.3 208.9 L471.8 208.9 L472.3 208.9 L472.8 208.9 L473.3 208.9 L473.8 208.9 L474.3 208.9 L474.8 208.9 L475.3 208.9 L475.8 208.9 L476.3 208.9 L476.8 208.9 L477.3 208.9 L477.8 208.9 L478.3 208.9 L478.8 208.9 L479.3 208.9 L479.8 208.9 L480.3 208.9 L480.8 208.9 L481.3 208.9 L481.8 208.9 L482.3 208.9 L482.8 208.9 L483.3 208.9 L483.8 208.9 L484.3 208.9 L484.8 208.9 L485.3 208.9 L485.8 208.9 L486.3 208.9 L486.8 208.9 L487.3 208.9 L487.8 208.9 L488.3 208.9 L488.8 208.9 L489.3 208.9 L489.8 208.9 L490.3 208.9 L490.8 208.9 L491.3 208.9 L491.8 208.9 L492.3 208.9 L492.8 208.9 L493.3 208.9 L493.8 208.9 L494.3 208.9 L494.8 208.9 L495.3 208.9 L495.8 208.9 L496.3 208.9 L496.8 208.9 L497.3 208.9 L497.8 208.9 L498.3 208.9 L498.8 208.9 L499.3 208.9 L499.8 208.9 L500.3 210.7 L500.8 210.7 L501.3 210.7 L501.8 210.7 L502.3 210.7 L502.8 210.7 L503.3 210.7 L503.8 210.7 L504.3 210.7 L504.8 210.7 L505.3 210.7 L505.8 210.7 L506.3 210.7 L506.8 210.7 L507.3 210.7 L507.8 210.7 L508.3 210.7 L508.8 210.7 L509.3 210.71 L509.8 210.72 L510.3 210.75 L510.8 210.87 L511.3 211.22 L511.8 212.46 L512.3 219.97 L512.4 222.8 L512.8 216.11 L513.3 210.62 L513.8 207.95 L514.3 206.64 L514.8 205.56 L515.3 204.65 L515.8 203.86 L516.3 203.17 L516.8 202.56 L517.3 202.02 L517.8 201.53 L518.3 201.09 L518.8 200.68 L519.3 200.3 L519.8 199.94 L520.3 199.59 L520.8 199.24 L521.3 198.89 L521.8 198.52 L522.3 198.15 L522.8 197.77 L523.3 197.4 L523.8 197.04 L524.3 196.68 L524.8 196.34 L525.3 196 L525.8 195.68 L526.3 195.36 L526.8 195.04 L527.3 194.74 L527.8 194.44 L528.3 194.15 L528.8 193.86 L529.3 193.58 L529.8 193.31 L530.3 193.04 L530.8 192.78 L531.3 192.53 L531.8 192.28 L532.3 192.04 L532.8 191.81 L533.3 191.58 L533.8 191.36 L534.3 191.14 L534.8 190.93 L535.3 190.72 L535.8 190.52 L536.3 190.32 L536.8 190.13 L537.3 189.94 L537.8 189.76 L538.3 189.58 L538.8 189.4 L539.3 189.22 L539.8 189.05 L540.3 188.88 L540.8 188.71 L541.3 188.54 L541.8 188.38 L542.3 188.21 L542.8 188.05 L543.3 187.89 L543.8 187.72 L544.3 187.56 L544.8 187.39 L545.3 187.23 L545.8 187.06 L546.3 186.9 L546.8 186.73 L547.3 186.56 L547.8 186.39 L548.3 186.21 L548.8 186.03 L549.3 185.85 L549.8 185.68 L550.3 185.5 L550.8 185.31 L551.3 185.13 L551.8 184.95 L552.3 184.77 L552.8 184.59 L553.3 184.41 L553.8 184.23 L554.3 184.04 L554.8 183.86 L555.3 183.68 L555.8 183.5 L556.3 183.31 L556.8 183.13 L557.3 182.95 L557.8 182.77 L558.3 182.58 L558.8 182.4 L559.3 182.22 L559.8 182.03 L560.3 181.85 L560.8 181.67 L561.3 181.48 L561.8 181.3 L562.3 181.12 L562.8 180.93 L563.3 180.75 L563.8 180.57 L564.3 180.38 L564.8 180.2 L565.3 180.02 L565.8 179.84 L566.3 179.65 L566.8 179.47 L567.3 179.29 L567.8 179.11 L568.3 178.93 L568.8 178.75 L569.3 178.57 L569.8 178.39 L570.3 178.2 L570.8 178.02 L571.3 177.85 L571.8 177.67 L572.3 177.49 L572.8 177.31 L573.3 177.13 L573.8 176.95 L574.3 176.77 L574.8 176.6 L575.3 176.42 L575.8 176.25 L576.3 176.07 L576.5 176" fill="none" stroke="#0010ff" stroke-width="1.7" stroke-linejoin="round"/><path d="M452.3 208.9 L452.8 208.9 L453.3 208.9 L453.8 208.9 L454.3 208.9 L454.8 208.9 L455.3 208.9 L455.8 208.9 L456.3 208.9 L456.8 208.9 L457.3 208.9 L457.8 208.9 L458.3 208.9 L458.8 208.9 L459.3 208.9 L459.8 208.9 L460.3 208.9 L460.8 208.9 L461.3 208.9 L461.8 208.9 L462.3 208.9 L462.8 208.9 L463.3 208.9 L463.8 208.9 L464.3 208.9 L464.8 208.9 L465.3 208.9 L465.8 208.9 L466.3 208.9 L466.8 208.9 L467.3 208.9 L467.8 208.9 L468.3 208.9 L468.8 208.9 L469.3 208.9 L469.8 208.9 L470.3 208.9 L470.8 208.9 L471.3 208.9 L471.8 208.9 L472.3 208.9 L472.8 208.9 L473.3 208.9 L473.8 208.9 L474.3 208.9 L474.8 208.9 L475.3 208.9 L475.8 208.9 L476.3 208.9 L476.8 208.9 L477.3 208.9 L477.8 208.9 L478.3 208.9 L478.8 208.9 L479.3 208.9 L479.8 208.9 L480.3 208.9 L480.8 208.9 L481.3 208.9 L481.8 208.9 L482.3 208.9 L482.8 208.9 L483.3 208.9 L483.8 208.9 L484.3 208.9 L484.8 208.9 L485.3 208.9 L485.8 208.9 L486.3 208.9 L486.8 208.9 L487.3 208.9 L487.8 208.9 L488.3 208.9 L488.8 208.9 L489.3 208.9 L489.8 208.9 L490.3 208.9 L490.8 208.9 L491.3 208.9 L491.8 208.9 L492.3 208.9 L492.8 208.9 L493.3 208.9 L493.8 208.9 L494.3 208.9 L494.8 208.9 L495.3 208.9 L495.8 208.9 L496.3 208.9 L496.8 208.9 L497.3 208.9 L497.8 208.9 L498.3 208.9 L498.8 208.9 L499.3 208.9 L499.8 208.9 L500.3 208.9 L500.8 208.9 L501.3 208.9 L501.8 208.9 L502.3 208.9 L502.8 208.9 L503.3 208.9 L503.8 208.9 L504.3 208.9 L504.8 208.9 L505.3 208.9 L505.8 208.9 L506.3 208.9 L506.8 208.9 L507.3 208.9 L507.8 208.9 L508.3 208.9 L508.8 208.9 L509.3 208.9 L509.8 208.9 L510.3 208.9 L510.8 208.9 L511.3 208.9 L511.8 208.9 L512.3 208.9 L512.8 208.9 L513.3 210.7 L513.8 210.7 L514.3 210.7 L514.8 210.7 L515.3 210.7 L515.8 210.7 L516.3 210.7 L516.8 210.7 L517.3 210.7 L517.8 210.71 L518.3 210.73 L518.8 210.78 L519.3 210.96 L519.8 211.53 L520.3 213.74 L520.7 236.95 L520.8 229.75 L521.3 219.12 L521.8 215.34 L522.3 212.93 L522.8 211.15 L523.3 209.77 L523.8 208.64 L524.3 207.64 L524.8 206.76 L525.3 205.95 L525.8 205.22 L526.3 204.54 L526.8 203.9 L527.3 203.31 L527.8 202.74 L528.3 202.2 L528.8 201.68 L529.3 201.18 L529.8 200.69 L530.3 200.22 L530.8 199.77 L531.3 199.32 L531.8 198.89 L532.3 198.47 L532.8 198.06 L533.3 197.66 L533.8 197.27 L534.3 196.89 L534.8 196.53 L535.3 196.17 L535.8 195.82 L536.3 195.47 L536.8 195.14 L537.3 194.82 L537.8 194.5 L538.3 194.19 L538.8 193.89 L539.3 193.6 L539.8 193.31 L540.3 193.02 L540.8 192.74 L541.3 192.47 L541.8 192.19 L542.3 191.93 L542.8 191.66 L543.3 191.4 L543.8 191.14 L544.3 190.89 L544.8 190.64 L545.3 190.39 L545.8 190.15 L546.3 189.91 L546.8 189.67 L547.3 189.44 L547.8 189.21 L548.3 188.98 L548.8 188.76 L549.3 188.54 L549.8 188.32 L550.3 188.11 L550.8 187.89 L551.3 187.68 L551.8 187.48 L552.3 187.28 L552.8 187.08 L553.3 186.88 L553.8 186.68 L554.3 186.49 L554.8 186.3 L555.3 186.12 L555.8 185.93 L556.3 185.75 L556.8 185.58 L557.3 185.4 L557.8 185.23 L558.3 185.06 L558.8 184.89 L559.3 184.73 L559.8 184.57 L560.3 184.41 L560.8 184.25 L561.3 184.1 L561.8 183.95 L562.3 183.79 L562.8 183.64 L563.3 183.5 L563.8 183.35 L564.3 183.2 L564.8 183.06 L565.3 182.92 L565.8 182.78 L566.3 182.63 L566.8 182.49 L567.3 182.35 L567.8 182.21 L568.3 182.08 L568.8 181.94 L569.3 181.8 L569.8 181.66 L570.3 181.52 L570.8 181.38 L571.3 181.24 L571.8 181.1 L572.3 180.96 L572.8 180.82 L573.3 180.68 L573.8 180.54 L574.3 180.4 L574.8 180.25 L575.3 180.11 L575.8 179.96 L576.3 179.81 L576.5 179.75" fill="none" stroke="#ff8410" stroke-width="1.7" stroke-linejoin="round"/><path d="M452.3 208.9 L452.8 208.9 L453.3 208.9 L453.8 208.9 L454.3 208.9 L454.8 208.9 L455.3 208.9 L455.8 208.9 L456.3 208.9 L456.8 208.9 L457.3 208.9 L457.8 208.9 L458.3 208.9 L458.8 208.9 L459.3 208.9 L459.8 208.9 L460.3 208.9 L460.8 208.9 L461.3 208.9 L461.8 208.9 L462.3 208.9 L462.8 208.9 L463.3 208.9 L463.8 208.9 L464.3 208.9 L464.8 208.9 L465.3 208.9 L465.8 208.9 L466.3 208.9 L466.8 208.9 L467.3 208.9 L467.8 208.9 L468.3 208.9 L468.8 208.9 L469.3 208.9 L469.8 208.9 L470.3 208.9 L470.8 208.9 L471.3 208.9 L471.8 208.9 L472.3 208.9 L472.8 208.9 L473.3 208.9 L473.8 208.9 L474.3 208.9 L474.8 208.9 L475.3 208.9 L475.8 208.9 L476.3 208.9 L476.8 208.9 L477.3 208.9 L477.8 208.9 L478.3 208.9 L478.8 208.9 L479.3 208.9 L479.8 208.9 L480.3 208.9 L480.8 208.9 L481.3 208.9 L481.8 208.9 L482.3 208.9 L482.8 208.9 L483.3 208.9 L483.8 208.9 L484.3 208.9 L484.8 208.9 L485.3 208.9 L485.8 208.9 L486.3 208.9 L486.8 208.9 L487.3 208.9 L487.8 208.9 L488.3 208.9 L488.8 208.9 L489.3 208.9 L489.8 208.9 L490.3 208.9 L490.8 208.9 L491.3 208.9 L491.8 208.9 L492.3 208.9 L492.8 208.9 L493.3 208.9 L493.8 208.9 L494.3 208.9 L494.8 208.9 L495.3 208.9 L495.8 208.9 L496.3 208.9 L496.8 208.9 L497.3 208.9 L497.8 208.9 L498.3 208.9 L498.8 208.9 L499.3 208.9 L499.8 208.9 L500.3 208.9 L500.8 208.9 L501.3 208.9 L501.8 208.9 L502.3 208.9 L502.8 208.9 L503.3 208.9 L503.8 208.9 L504.3 208.9 L504.8 208.9 L505.3 208.9 L505.8 208.9 L506.3 208.9 L506.8 208.9 L507.3 208.9 L507.8 208.9 L508.3 208.9 L508.8 208.9 L509.3 208.9 L509.8 208.9 L510.3 208.9 L510.8 208.9 L511.3 208.9 L511.8 208.9 L512.3 208.9 L512.8 208.9 L513.3 208.9 L513.8 208.9 L514.3 208.9 L514.8 208.9 L515.3 208.9 L515.8 208.9 L516.3 208.9 L516.8 208.9 L517.3 208.9 L517.8 208.9 L518.3 208.9 L518.8 208.9 L519.3 208.9 L519.8 208.9 L520.3 208.9 L520.8 208.9 L521.3 208.9 L521.8 208.9 L522.3 208.9 L522.8 208.9 L523.3 210.7 L523.8 210.7 L524.3 210.7 L524.8 210.7 L525.3 210.71 L525.8 210.74 L526.3 210.83 L526.8 211.11 L527.3 212.06 L527.8 216.59 L528 224.7 L528.3 222.15 L528.8 216.09 L529.3 213.02 L529.8 211.08 L530.3 209.82 L530.8 208.83 L531.3 207.99 L531.8 207.28 L532.3 206.65 L532.8 206.09 L533.3 205.58 L533.8 205.11 L534.3 204.66 L534.8 204.24 L535.3 203.82 L535.8 203.4 L536.3 202.97 L536.8 202.52 L537.3 202.08 L537.8 201.64 L538.3 201.2 L538.8 200.77 L539.3 200.34 L539.8 199.93 L540.3 199.51 L540.8 199.11 L541.3 198.71 L541.8 198.32 L542.3 197.94 L542.8 197.56 L543.3 197.2 L543.8 196.84 L544.3 196.49 L544.8 196.15 L545.3 195.83 L545.8 195.51 L546.3 195.2 L546.8 194.91 L547.3 194.62 L547.8 194.35 L548.3 194.08 L548.8 193.81 L549.3 193.56 L549.8 193.3 L550.3 193.06 L550.8 192.82 L551.3 192.58 L551.8 192.35 L552.3 192.11 L552.8 191.89 L553.3 191.66 L553.8 191.44 L554.3 191.21 L554.8 190.99 L555.3 190.77 L555.8 190.55 L556.3 190.33 L556.8 190.11 L557.3 189.89 L557.8 189.67 L558.3 189.45 L558.8 189.24 L559.3 189.02 L559.8 188.81 L560.3 188.6 L560.8 188.39 L561.3 188.18 L561.8 187.97 L562.3 187.77 L562.8 187.56 L563.3 187.36 L563.8 187.15 L564.3 186.95 L564.8 186.75 L565.3 186.55 L565.8 186.35 L566.3 186.15 L566.8 185.95 L567.3 185.75 L567.8 185.56 L568.3 185.36 L568.8 185.16 L569.3 184.97 L569.8 184.77 L570.3 184.58 L570.8 184.38 L571.3 184.19 L571.8 184 L572.3 183.81 L572.8 183.61 L573.3 183.42 L573.8 183.23 L574.3 183.04 L574.8 182.85 L575.3 182.66 L575.8 182.47 L576.3 182.28 L576.5 182.2" fill="none" stroke="#008c00" stroke-width="1.7" stroke-linejoin="round"/><path d="M34.9 76.5H50" stroke="#2838c0" stroke-width="1" shape-rendering="crispEdges"/><path d="M242.5 76.5H278" stroke="#58608a" stroke-width="1" shape-rendering="crispEdges"/><path d="M448.9 76.5H509" stroke="#6a7050" stroke-width="1" shape-rendering="crispEdges"/><path d="M37.5 209.5H41" stroke="#4a8a20" stroke-width="1" shape-rendering="crispEdges"/><path d="M244.5 209.5H276" stroke="#4a8a20" stroke-width="1" shape-rendering="crispEdges"/><path d="M451.8 209.5H499" stroke="#5a7040" stroke-width="1" shape-rendering="crispEdges"/><path d="M59 12H68" stroke="#0010ff" stroke-width="2"/><path d="M266 12H275" stroke="#ff8410" stroke-width="2"/><path d="M474 12H483" stroke="#008c00" stroke-width="2"/></g>
</svg></body></html>
